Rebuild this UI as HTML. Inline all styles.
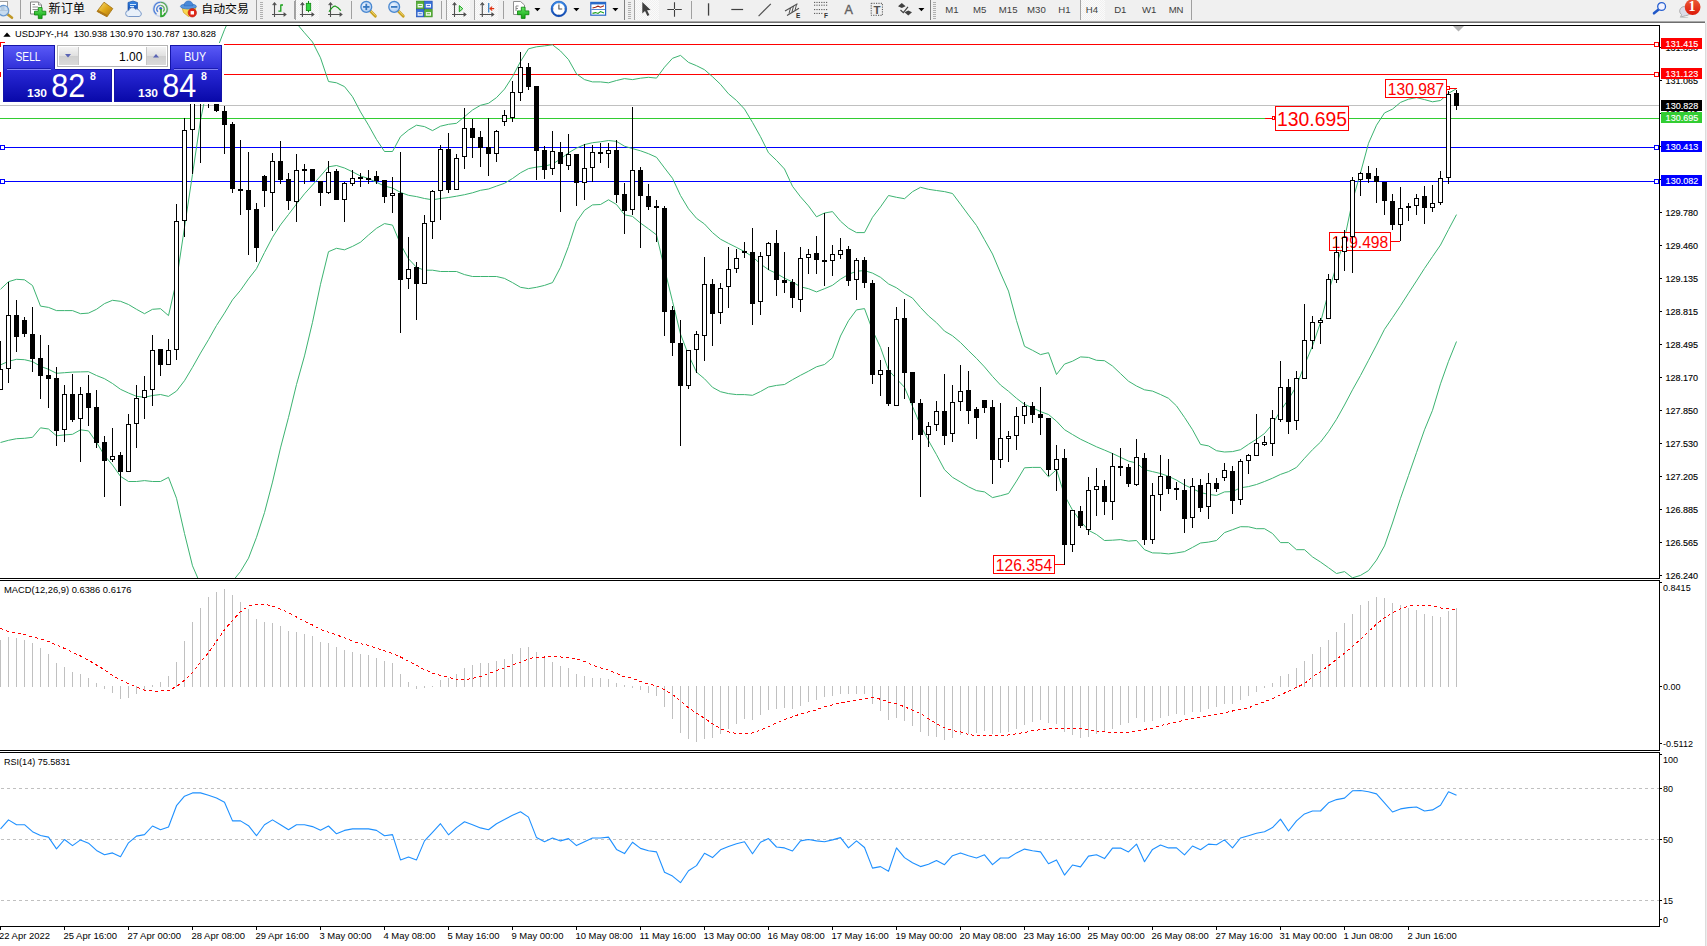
<!DOCTYPE html>
<html><head><meta charset="utf-8"><title>USDJPY H4</title>
<style>
html,body{margin:0;padding:0;background:#f0f0f0;}
body{width:1707px;height:946px;position:relative;overflow:hidden;font-family:"Liberation Sans", sans-serif;}
#tb{position:absolute;left:0;top:0;width:1707px;height:23px;background:#f0f0f0;}
#tb .ln1{position:absolute;left:0;top:21px;width:1705px;height:1px;background:#a8a8a8;}
#tb .ln2{position:absolute;left:0;top:22px;width:1705px;height:1px;background:#6e6e6e;}
</style></head><body>
<svg id="chart" width="1707" height="946" viewBox="0 0 1707 946" style="position:absolute;left:0;top:0" font-family='"Liberation Sans", sans-serif' shape-rendering="crispEdges"><defs><clipPath id="cm"><rect x="0" y="26" width="1659" height="552"/></clipPath><clipPath id="c2"><rect x="0" y="581" width="1659" height="169"/></clipPath><clipPath id="c3"><rect x="0" y="753" width="1659" height="173"/></clipPath><linearGradient id="gb" x1="0" y1="0" x2="0" y2="1"><stop offset="0" stop-color="#5a5af8"/><stop offset="1" stop-color="#3030d8"/></linearGradient><linearGradient id="gp" x1="0" y1="0" x2="0" y2="1"><stop offset="0" stop-color="#2a2ad8"/><stop offset="1" stop-color="#0808a8"/></linearGradient><linearGradient id="gs" x1="0" y1="0" x2="0" y2="1"><stop offset="0" stop-color="#f4f4f4"/><stop offset="0.5" stop-color="#e0e0e0"/><stop offset="0.5" stop-color="#cfcfcf"/><stop offset="1" stop-color="#dadada"/></linearGradient></defs><rect x="0" y="23" width="1707" height="923" fill="#fff" /><rect x="1705" y="23" width="1" height="923" fill="#dcdcdc" /><rect x="1706" y="23" width="1" height="923" fill="#ececec" /><g clip-path="url(#cm)"><rect x="0" y="105" width="1659" height="1" fill="#c0c0c0" /><rect x="0" y="44" width="1659" height="1" fill="#ff0000" /><rect x="0" y="74" width="1659" height="1" fill="#ff0000" /><rect x="0" y="118" width="1659" height="1" fill="#32cd32" /><rect x="0" y="147" width="1659" height="1" fill="#0000ff" /><rect x="0" y="181" width="1659" height="1" fill="#0000ff" /><polyline points="0.5,289.3 8.5,281.7 16.5,279.3 24.5,279.8 32.5,285.5 40.5,306.1 48.5,307.4 56.5,310.6 64.5,310.6 72.5,310.6 80.5,313.7 88.5,313.1 96.5,309.3 104.5,303.6 112.5,300.3 120.5,301.3 128.5,304.5 136.5,309.3 144.5,313.7 152.5,309.3 160.5,308.7 168.5,315.6 176.5,280.7 184.5,227.3 192.5,174.3 200.5,120.3 208.5,80.3 216.5,50.3 224.5,29.7 232.5,12.3 240.5,5.3 248.5,0.3 256.5,0.3 264.5,0.3 272.5,0.3 280.5,5.3 288.5,12.3 296.5,23.3 304.5,32.8 312.5,42.0 320.5,57.8 328.5,81.5 336.5,82.8 344.5,86.6 352.5,96.7 360.5,111.9 368.5,125.2 376.5,139.5 384.5,151.5 392.5,151.5 400.5,136.6 408.5,130.0 416.5,125.2 424.5,126.6 432.5,130.6 440.5,126.2 448.5,124.3 456.5,123.3 464.5,116.7 472.5,110.0 480.5,105.3 488.5,103.3 496.5,97.6 504.5,89.1 512.5,76.7 520.5,61.5 528.5,48.8 536.5,46.8 544.5,45.9 552.5,44.8 560.5,51.0 568.5,59.6 576.5,73.9 584.5,79.6 592.5,81.9 600.5,81.9 608.5,82.8 616.5,80.5 624.5,78.6 632.5,79.6 640.5,78.2 648.5,77.3 656.5,78.1 664.5,67.2 672.5,58.3 680.5,55.4 688.5,62.4 696.5,65.7 704.5,69.7 712.5,76.7 720.5,84.3 728.5,93.8 736.5,100.5 744.5,109.1 752.5,122.4 760.5,136.7 768.5,152.8 776.5,160.4 784.5,169.0 792.5,186.3 800.5,196.8 808.5,205.9 816.5,216.8 824.5,213.0 832.5,211.6 840.5,221.2 848.5,228.2 856.5,232.6 864.5,232.6 872.5,217.3 880.5,206.9 888.5,195.5 896.5,197.3 904.5,198.7 912.5,191.7 920.5,187.3 928.5,189.3 936.5,190.5 944.5,191.6 952.5,193.5 960.5,204.2 968.5,215.0 976.5,225.5 984.5,239.7 992.5,254.0 1000.5,273.0 1008.5,291.1 1016.5,320.6 1024.5,346.3 1032.5,350.3 1040.5,354.6 1048.5,352.7 1056.5,374.5 1064.5,364.1 1072.5,361.2 1080.5,356.9 1088.5,357.4 1096.5,360.3 1104.5,360.7 1112.5,366.0 1120.5,373.6 1128.5,381.2 1136.5,386.0 1144.5,389.8 1152.5,391.1 1160.5,394.5 1168.5,398.3 1176.5,405.9 1184.5,417.4 1192.5,429.7 1200.5,444.4 1208.5,445.9 1216.5,450.7 1224.5,452.0 1232.5,451.6 1240.5,449.7 1248.5,444.3 1256.5,439.2 1264.5,433.5 1272.5,424.0 1280.5,410.7 1288.5,399.3 1296.5,386.0 1304.5,365.0 1312.5,346.0 1320.5,322.5 1328.5,292.1 1336.5,265.4 1344.5,238.8 1352.5,200.7 1360.5,172.8 1368.5,143.3 1376.5,125.2 1384.5,112.9 1392.5,109.1 1400.5,102.4 1408.5,99.2 1416.5,97.6 1424.5,99.6 1432.5,101.8 1440.5,100.5 1448.5,93.3 1456.5,88.7" fill="none" stroke="#3cb371" stroke-width="1.0" shape-rendering="geometricPrecision" stroke-linejoin="round"/><polyline points="0.5,364.9 8.5,361.3 16.5,359.3 24.5,359.7 32.5,361.6 40.5,366.3 48.5,369.3 56.5,373.3 64.5,372.7 72.5,372.1 80.5,371.9 88.5,371.7 96.5,375.5 104.5,378.7 112.5,383.5 120.5,389.3 128.5,393.0 136.5,396.3 144.5,397.3 152.5,395.5 160.5,394.5 168.5,396.4 176.5,391.1 184.5,380.7 192.5,367.3 200.5,353.1 208.5,339.7 216.5,325.5 224.5,313.1 232.5,299.8 240.5,290.3 248.5,278.9 256.5,268.7 264.5,252.5 272.5,237.3 280.5,224.9 288.5,214.5 296.5,204.0 304.5,193.8 312.5,185.0 320.5,176.0 328.5,166.8 336.5,165.5 344.5,168.0 352.5,171.8 360.5,176.0 368.5,178.5 376.5,182.3 384.5,186.1 392.5,188.0 400.5,192.4 408.5,195.3 416.5,196.6 424.5,198.5 432.5,199.8 440.5,198.5 448.5,197.5 456.5,196.2 464.5,194.7 472.5,192.8 480.5,190.3 488.5,189.0 496.5,186.1 504.5,183.3 512.5,178.5 520.5,172.8 528.5,168.6 536.5,167.1 544.5,166.1 552.5,164.2 560.5,158.9 568.5,152.8 576.5,148.1 584.5,144.6 592.5,142.7 600.5,141.8 608.5,140.5 616.5,141.4 624.5,146.2 632.5,148.6 640.5,150.8 648.5,153.7 656.5,157.3 664.5,167.9 672.5,178.3 680.5,195.5 688.5,208.8 696.5,218.3 704.5,224.0 712.5,232.6 720.5,239.2 728.5,243.4 736.5,247.4 744.5,251.6 752.5,256.7 760.5,264.0 768.5,269.7 776.5,273.5 784.5,278.2 792.5,282.0 800.5,286.8 808.5,288.7 816.5,291.9 824.5,288.7 832.5,285.3 840.5,279.2 848.5,274.4 856.5,271.2 864.5,270.6 872.5,273.1 880.5,277.3 888.5,283.9 896.5,287.8 904.5,293.5 912.5,298.1 920.5,307.5 928.5,315.9 936.5,322.7 944.5,331.1 952.5,335.8 960.5,342.5 968.5,350.6 976.5,358.4 984.5,366.9 992.5,376.4 1000.5,385.0 1008.5,391.3 1016.5,398.3 1024.5,404.4 1032.5,407.8 1040.5,411.6 1048.5,414.5 1056.5,421.2 1064.5,429.7 1072.5,434.5 1080.5,439.2 1088.5,443.0 1096.5,446.8 1104.5,450.1 1112.5,453.5 1120.5,457.3 1128.5,461.1 1136.5,463.0 1144.5,469.7 1152.5,471.6 1160.5,473.5 1168.5,476.3 1176.5,480.1 1184.5,484.9 1192.5,488.7 1200.5,492.5 1208.5,494.4 1216.5,495.4 1224.5,491.9 1232.5,491.6 1240.5,487.8 1248.5,486.6 1256.5,484.5 1264.5,481.5 1272.5,478.2 1280.5,474.4 1288.5,471.6 1296.5,467.4 1304.5,458.3 1312.5,449.7 1320.5,442.1 1328.5,431.6 1336.5,419.3 1344.5,405.0 1352.5,389.8 1360.5,375.5 1368.5,360.3 1376.5,345.1 1384.5,329.3 1392.5,317.6 1400.5,305.7 1408.5,293.2 1416.5,280.9 1424.5,268.4 1432.5,256.6 1440.5,245.0 1448.5,229.6 1456.5,214.6" fill="none" stroke="#3cb371" stroke-width="1.0" shape-rendering="geometricPrecision" stroke-linejoin="round"/><polyline points="0.5,442.5 8.5,440.3 16.5,438.7 24.5,438.3 32.5,437.3 40.5,427.8 48.5,429.0 56.5,435.8 64.5,434.9 72.5,434.3 80.5,429.8 88.5,430.9 96.5,442.3 104.5,455.5 112.5,465.0 120.5,476.4 128.5,481.5 136.5,481.5 144.5,480.6 152.5,481.5 160.5,481.5 168.5,477.3 176.5,498.3 184.5,533.5 192.5,565.8 200.5,584.3 208.5,592.3 216.5,595.3 224.5,590.3 232.5,581.3 240.5,571.5 248.5,558.2 256.5,537.3 264.5,512.6 272.5,482.1 280.5,447.9 288.5,417.4 296.5,384.5 304.5,355.9 312.5,322.3 320.5,284.3 328.5,251.7 336.5,248.3 344.5,249.8 352.5,246.4 360.5,242.2 368.5,235.0 376.5,228.3 384.5,223.6 392.5,225.1 400.5,244.1 408.5,258.8 416.5,267.3 424.5,270.2 432.5,270.2 440.5,271.5 448.5,271.5 456.5,271.5 464.5,274.6 472.5,276.5 480.5,276.5 488.5,276.5 496.5,276.5 504.5,278.4 512.5,282.6 520.5,287.3 528.5,288.6 536.5,287.3 544.5,285.4 552.5,282.6 560.5,267.3 568.5,246.4 576.5,221.7 584.5,210.3 592.5,204.9 600.5,204.5 608.5,199.8 616.5,204.5 624.5,214.8 632.5,216.4 640.5,223.1 648.5,228.8 656.5,234.9 664.5,268.8 672.5,301.3 680.5,334.1 688.5,355.0 696.5,372.1 704.5,378.8 712.5,387.3 720.5,391.7 728.5,393.6 736.5,394.6 744.5,394.6 752.5,395.3 760.5,391.5 768.5,387.0 776.5,385.4 784.5,384.5 792.5,379.7 800.5,375.3 808.5,371.2 816.5,366.8 824.5,364.5 832.5,357.8 840.5,336.0 848.5,320.7 856.5,309.9 864.5,308.6 872.5,330.3 880.5,347.4 888.5,370.2 896.5,378.8 904.5,387.3 912.5,406.4 920.5,425.4 928.5,440.6 936.5,454.7 944.5,469.7 952.5,477.3 960.5,482.0 968.5,486.8 976.5,490.6 984.5,491.9 992.5,497.6 1000.5,495.7 1008.5,493.5 1016.5,481.1 1024.5,467.8 1032.5,467.4 1040.5,467.4 1048.5,476.9 1056.5,469.7 1064.5,495.3 1072.5,510.1 1080.5,521.1 1088.5,530.3 1096.5,534.5 1104.5,540.5 1112.5,540.2 1120.5,539.6 1128.5,541.1 1136.5,540.5 1144.5,549.7 1152.5,552.9 1160.5,553.1 1168.5,553.9 1176.5,552.9 1184.5,551.6 1192.5,547.4 1200.5,543.0 1208.5,542.1 1216.5,540.5 1224.5,532.6 1232.5,529.7 1240.5,526.7 1248.5,526.8 1256.5,528.7 1264.5,528.7 1272.5,533.5 1280.5,542.6 1288.5,542.6 1296.5,549.7 1304.5,549.7 1312.5,556.9 1320.5,562.0 1328.5,567.7 1336.5,573.5 1344.5,571.6 1352.5,577.8 1360.5,575.4 1368.5,570.6 1376.5,560.1 1384.5,545.9 1392.5,523.0 1400.5,498.3 1408.5,475.5 1416.5,452.6 1424.5,429.8 1432.5,410.3 1440.5,383.8 1448.5,361.3 1456.5,341.5" fill="none" stroke="#3cb371" stroke-width="1.0" shape-rendering="geometricPrecision" stroke-linejoin="round"/><rect x="993.5" y="555.5" width="61" height="18" fill="#fff" stroke="#ff0000" stroke-width="1"/><text x="1024.0" y="571.186" font-size="17" fill="#ff0000" text-anchor="middle" font-weight="normal" shape-rendering="auto" textLength="56.5" lengthAdjust="spacingAndGlyphs">126.354</text><rect x="1054" y="564" width="10" height="1" fill="#ff0000" /><rect x="1329.5" y="232.5" width="61" height="18" fill="#fff" stroke="#ff0000" stroke-width="1"/><text x="1360.0" y="248.186" font-size="17" fill="#ff0000" text-anchor="middle" font-weight="normal" shape-rendering="auto" textLength="56.5" lengthAdjust="spacingAndGlyphs">129.498</text><rect x="1390" y="241" width="10" height="1" fill="#ff0000" /><rect x="1385.5" y="79.5" width="61" height="18" fill="#fff" stroke="#ff0000" stroke-width="1"/><text x="1416.0" y="95.18599999999999" font-size="17" fill="#ff0000" text-anchor="middle" font-weight="normal" shape-rendering="auto" textLength="56.5" lengthAdjust="spacingAndGlyphs">130.987</text><rect x="1446.5" y="86.5" width="3" height="3" fill="#fff" stroke="#ff0000" stroke-width="1"/><rect x="1450" y="88" width="7" height="1" fill="#ff0000" /><rect x="1275.5" y="106.5" width="73" height="24" fill="#fff" stroke="#ff0000" stroke-width="1"/><text x="1312.0" y="126.4032" font-size="20.4" fill="#ff0000" text-anchor="middle" font-weight="normal" shape-rendering="auto" textLength="70" lengthAdjust="spacingAndGlyphs">130.695</text><rect x="1272.5" y="116.5" width="2" height="3" fill="#fff" stroke="#ff0000" stroke-width="1"/><rect x="1265" y="118" width="7" height="1" fill="#ff0000" /><rect x="0" y="341" width="1" height="49" fill="#000" /><rect x="-2" y="369" width="5" height="21" fill="#000" /><rect x="-1" y="370" width="3" height="19" fill="#fff" /><rect x="8" y="282" width="1" height="101" fill="#000" /><rect x="6" y="315" width="5" height="54" fill="#000" /><rect x="7" y="316" width="3" height="52" fill="#fff" /><rect x="16" y="300" width="1" height="52" fill="#000" /><rect x="14" y="315" width="5" height="22" fill="#000" /><rect x="24" y="317" width="1" height="20" fill="#000" /><rect x="22" y="320" width="5" height="14" fill="#000" /><rect x="32" y="307" width="1" height="65" fill="#000" /><rect x="30" y="334" width="5" height="25" fill="#000" /><rect x="40" y="335" width="1" height="64" fill="#000" /><rect x="38" y="358" width="5" height="18" fill="#000" /><rect x="48" y="345" width="1" height="63" fill="#000" /><rect x="46" y="375" width="5" height="4" fill="#000" /><rect x="56" y="367" width="1" height="79" fill="#000" /><rect x="54" y="378" width="5" height="53" fill="#000" /><rect x="64" y="385" width="1" height="57" fill="#000" /><rect x="62" y="394" width="5" height="36" fill="#000" /><rect x="63" y="395" width="3" height="34" fill="#fff" /><rect x="72" y="374" width="1" height="48" fill="#000" /><rect x="70" y="394" width="5" height="26" fill="#000" /><rect x="80" y="387" width="1" height="75" fill="#000" /><rect x="78" y="394" width="5" height="25" fill="#000" /><rect x="79" y="395" width="3" height="23" fill="#fff" /><rect x="88" y="375" width="1" height="51" fill="#000" /><rect x="86" y="393" width="5" height="15" fill="#000" /><rect x="96" y="390" width="1" height="58" fill="#000" /><rect x="94" y="407" width="5" height="36" fill="#000" /><rect x="104" y="436" width="1" height="61" fill="#000" /><rect x="102" y="442" width="5" height="19" fill="#000" /><rect x="112" y="428" width="1" height="34" fill="#000" /><rect x="110" y="456" width="5" height="4" fill="#000" /><rect x="111" y="457" width="3" height="2" fill="#fff" /><rect x="120" y="452" width="1" height="54" fill="#000" /><rect x="118" y="455" width="5" height="17" fill="#000" /><rect x="128" y="414" width="1" height="58" fill="#000" /><rect x="126" y="424" width="5" height="48" fill="#000" /><rect x="127" y="425" width="3" height="46" fill="#fff" /><rect x="136" y="385" width="1" height="63" fill="#000" /><rect x="134" y="398" width="5" height="26" fill="#000" /><rect x="135" y="399" width="3" height="24" fill="#fff" /><rect x="144" y="376" width="1" height="43" fill="#000" /><rect x="142" y="390" width="5" height="8" fill="#000" /><rect x="143" y="391" width="3" height="6" fill="#fff" /><rect x="152" y="335" width="1" height="71" fill="#000" /><rect x="150" y="350" width="5" height="40" fill="#000" /><rect x="151" y="351" width="3" height="38" fill="#fff" /><rect x="160" y="349" width="1" height="27" fill="#000" /><rect x="158" y="349" width="5" height="16" fill="#000" /><rect x="168" y="339" width="1" height="26" fill="#000" /><rect x="166" y="350" width="5" height="15" fill="#000" /><rect x="167" y="351" width="3" height="13" fill="#fff" /><rect x="176" y="204" width="1" height="156" fill="#000" /><rect x="174" y="221" width="5" height="129" fill="#000" /><rect x="175" y="222" width="3" height="127" fill="#fff" /><rect x="184" y="118" width="1" height="119" fill="#000" /><rect x="182" y="130" width="5" height="91" fill="#000" /><rect x="183" y="131" width="3" height="89" fill="#fff" /><rect x="192" y="70" width="1" height="104" fill="#000" /><rect x="190" y="78" width="5" height="52" fill="#000" /><rect x="191" y="79" width="3" height="50" fill="#fff" /><rect x="200" y="62" width="1" height="101" fill="#000" /><rect x="198" y="66" width="5" height="29" fill="#000" /><rect x="208" y="75" width="1" height="33" fill="#000" /><rect x="206" y="80" width="5" height="20" fill="#000" /><rect x="207" y="81" width="3" height="18" fill="#fff" /><rect x="216" y="90" width="1" height="22" fill="#000" /><rect x="214" y="95" width="5" height="16" fill="#000" /><rect x="224" y="106" width="1" height="48" fill="#000" /><rect x="222" y="111" width="5" height="14" fill="#000" /><rect x="232" y="122" width="1" height="71" fill="#000" /><rect x="230" y="124" width="5" height="65" fill="#000" /><rect x="240" y="140" width="1" height="75" fill="#000" /><rect x="238" y="189" width="5" height="2" fill="#000" /><rect x="248" y="152" width="1" height="103" fill="#000" /><rect x="246" y="190" width="5" height="20" fill="#000" /><rect x="256" y="203" width="1" height="59" fill="#000" /><rect x="254" y="209" width="5" height="39" fill="#000" /><rect x="264" y="175" width="1" height="32" fill="#000" /><rect x="262" y="176" width="5" height="15" fill="#000" /><rect x="272" y="153" width="1" height="78" fill="#000" /><rect x="270" y="161" width="5" height="32" fill="#000" /><rect x="271" y="162" width="3" height="30" fill="#fff" /><rect x="280" y="141" width="1" height="43" fill="#000" /><rect x="278" y="161" width="5" height="19" fill="#000" /><rect x="288" y="173" width="1" height="37" fill="#000" /><rect x="286" y="179" width="5" height="22" fill="#000" /><rect x="296" y="154" width="1" height="68" fill="#000" /><rect x="294" y="170" width="5" height="32" fill="#000" /><rect x="295" y="171" width="3" height="30" fill="#fff" /><rect x="304" y="164" width="1" height="20" fill="#000" /><rect x="302" y="169" width="5" height="2" fill="#000" /><rect x="312" y="169" width="1" height="12" fill="#000" /><rect x="310" y="169" width="5" height="12" fill="#000" /><rect x="320" y="181" width="1" height="25" fill="#000" /><rect x="318" y="181" width="5" height="12" fill="#000" /><rect x="328" y="161" width="1" height="33" fill="#000" /><rect x="326" y="172" width="5" height="21" fill="#000" /><rect x="327" y="173" width="3" height="19" fill="#fff" /><rect x="336" y="169" width="1" height="31" fill="#000" /><rect x="334" y="171" width="5" height="29" fill="#000" /><rect x="344" y="182" width="1" height="40" fill="#000" /><rect x="342" y="183" width="5" height="17" fill="#000" /><rect x="343" y="184" width="3" height="15" fill="#fff" /><rect x="352" y="170" width="1" height="16" fill="#000" /><rect x="350" y="178" width="5" height="6" fill="#000" /><rect x="351" y="179" width="3" height="4" fill="#fff" /><rect x="360" y="173" width="1" height="14" fill="#000" /><rect x="358" y="177" width="5" height="2" fill="#000" /><rect x="368" y="170" width="1" height="14" fill="#000" /><rect x="366" y="178" width="5" height="2" fill="#000" /><rect x="376" y="171" width="1" height="13" fill="#000" /><rect x="374" y="176" width="5" height="5" fill="#000" /><rect x="384" y="180" width="1" height="23" fill="#000" /><rect x="382" y="180" width="5" height="17" fill="#000" /><rect x="392" y="177" width="1" height="36" fill="#000" /><rect x="390" y="193" width="5" height="3" fill="#000" /><rect x="391" y="194" width="3" height="1" fill="#fff" /><rect x="400" y="152" width="1" height="181" fill="#000" /><rect x="398" y="193" width="5" height="87" fill="#000" /><rect x="408" y="237" width="1" height="52" fill="#000" /><rect x="406" y="269" width="5" height="10" fill="#000" /><rect x="407" y="270" width="3" height="8" fill="#fff" /><rect x="416" y="262" width="1" height="58" fill="#000" /><rect x="414" y="267" width="5" height="17" fill="#000" /><rect x="424" y="215" width="1" height="69" fill="#000" /><rect x="422" y="223" width="5" height="61" fill="#000" /><rect x="423" y="224" width="3" height="59" fill="#fff" /><rect x="432" y="190" width="1" height="49" fill="#000" /><rect x="430" y="191" width="5" height="31" fill="#000" /><rect x="431" y="192" width="3" height="29" fill="#fff" /><rect x="440" y="145" width="1" height="75" fill="#000" /><rect x="438" y="149" width="5" height="42" fill="#000" /><rect x="439" y="150" width="3" height="40" fill="#fff" /><rect x="448" y="133" width="1" height="60" fill="#000" /><rect x="446" y="149" width="5" height="41" fill="#000" /><rect x="456" y="154" width="1" height="36" fill="#000" /><rect x="454" y="158" width="5" height="32" fill="#000" /><rect x="455" y="159" width="3" height="30" fill="#fff" /><rect x="464" y="108" width="1" height="61" fill="#000" /><rect x="462" y="128" width="5" height="29" fill="#000" /><rect x="463" y="129" width="3" height="27" fill="#fff" /><rect x="472" y="119" width="1" height="39" fill="#000" /><rect x="470" y="128" width="5" height="10" fill="#000" /><rect x="480" y="131" width="1" height="36" fill="#000" /><rect x="478" y="137" width="5" height="11" fill="#000" /><rect x="488" y="118" width="1" height="58" fill="#000" /><rect x="486" y="147" width="5" height="7" fill="#000" /><rect x="496" y="130" width="1" height="32" fill="#000" /><rect x="494" y="131" width="5" height="23" fill="#000" /><rect x="495" y="132" width="3" height="21" fill="#fff" /><rect x="504" y="110" width="1" height="16" fill="#000" /><rect x="502" y="115" width="5" height="7" fill="#000" /><rect x="503" y="116" width="3" height="5" fill="#fff" /><rect x="512" y="81" width="1" height="41" fill="#000" /><rect x="510" y="92" width="5" height="26" fill="#000" /><rect x="511" y="93" width="3" height="24" fill="#fff" /><rect x="520" y="52" width="1" height="49" fill="#000" /><rect x="518" y="67" width="5" height="26" fill="#000" /><rect x="519" y="68" width="3" height="24" fill="#fff" /><rect x="528" y="63" width="1" height="27" fill="#000" /><rect x="526" y="67" width="5" height="20" fill="#000" /><rect x="536" y="86" width="1" height="94" fill="#000" /><rect x="534" y="86" width="5" height="65" fill="#000" /><rect x="544" y="146" width="1" height="33" fill="#000" /><rect x="542" y="150" width="5" height="20" fill="#000" /><rect x="552" y="131" width="1" height="44" fill="#000" /><rect x="550" y="151" width="5" height="18" fill="#000" /><rect x="551" y="152" width="3" height="16" fill="#fff" /><rect x="560" y="142" width="1" height="70" fill="#000" /><rect x="558" y="152" width="5" height="12" fill="#000" /><rect x="568" y="134" width="1" height="36" fill="#000" /><rect x="566" y="154" width="5" height="12" fill="#000" /><rect x="567" y="155" width="3" height="10" fill="#fff" /><rect x="576" y="154" width="1" height="52" fill="#000" /><rect x="574" y="154" width="5" height="29" fill="#000" /><rect x="584" y="144" width="1" height="56" fill="#000" /><rect x="582" y="168" width="5" height="15" fill="#000" /><rect x="583" y="169" width="3" height="13" fill="#fff" /><rect x="592" y="145" width="1" height="37" fill="#000" /><rect x="590" y="152" width="5" height="16" fill="#000" /><rect x="591" y="153" width="3" height="14" fill="#fff" /><rect x="600" y="143" width="1" height="20" fill="#000" /><rect x="598" y="152" width="5" height="2" fill="#000" /><rect x="608" y="143" width="1" height="25" fill="#000" /><rect x="606" y="150" width="5" height="4" fill="#000" /><rect x="607" y="151" width="3" height="2" fill="#fff" /><rect x="616" y="140" width="1" height="63" fill="#000" /><rect x="614" y="150" width="5" height="45" fill="#000" /><rect x="624" y="183" width="1" height="51" fill="#000" /><rect x="622" y="194" width="5" height="17" fill="#000" /><rect x="632" y="107" width="1" height="108" fill="#000" /><rect x="630" y="170" width="5" height="40" fill="#000" /><rect x="631" y="171" width="3" height="38" fill="#fff" /><rect x="640" y="167" width="1" height="81" fill="#000" /><rect x="638" y="170" width="5" height="26" fill="#000" /><rect x="648" y="184" width="1" height="26" fill="#000" /><rect x="646" y="196" width="5" height="11" fill="#000" /><rect x="656" y="200" width="1" height="42" fill="#000" /><rect x="654" y="206" width="5" height="2" fill="#000" /><rect x="664" y="206" width="1" height="130" fill="#000" /><rect x="662" y="208" width="5" height="104" fill="#000" /><rect x="672" y="306" width="1" height="50" fill="#000" /><rect x="670" y="310" width="5" height="33" fill="#000" /><rect x="680" y="320" width="1" height="126" fill="#000" /><rect x="678" y="343" width="5" height="43" fill="#000" /><rect x="688" y="350" width="1" height="39" fill="#000" /><rect x="686" y="350" width="5" height="36" fill="#000" /><rect x="687" y="351" width="3" height="34" fill="#fff" /><rect x="696" y="331" width="1" height="42" fill="#000" /><rect x="694" y="334" width="5" height="16" fill="#000" /><rect x="695" y="335" width="3" height="14" fill="#fff" /><rect x="704" y="257" width="1" height="104" fill="#000" /><rect x="702" y="284" width="5" height="52" fill="#000" /><rect x="703" y="285" width="3" height="50" fill="#fff" /><rect x="712" y="279" width="1" height="67" fill="#000" /><rect x="710" y="284" width="5" height="30" fill="#000" /><rect x="720" y="283" width="1" height="41" fill="#000" /><rect x="718" y="288" width="5" height="25" fill="#000" /><rect x="719" y="289" width="3" height="23" fill="#fff" /><rect x="728" y="247" width="1" height="61" fill="#000" /><rect x="726" y="269" width="5" height="18" fill="#000" /><rect x="727" y="270" width="3" height="16" fill="#fff" /><rect x="736" y="249" width="1" height="24" fill="#000" /><rect x="734" y="258" width="5" height="11" fill="#000" /><rect x="735" y="259" width="3" height="9" fill="#fff" /><rect x="744" y="242" width="1" height="16" fill="#000" /><rect x="742" y="251" width="5" height="2" fill="#000" /><rect x="752" y="228" width="1" height="97" fill="#000" /><rect x="750" y="252" width="5" height="52" fill="#000" /><rect x="760" y="252" width="1" height="63" fill="#000" /><rect x="758" y="256" width="5" height="46" fill="#000" /><rect x="759" y="257" width="3" height="44" fill="#fff" /><rect x="768" y="242" width="1" height="28" fill="#000" /><rect x="766" y="243" width="5" height="13" fill="#000" /><rect x="767" y="244" width="3" height="11" fill="#fff" /><rect x="776" y="230" width="1" height="66" fill="#000" /><rect x="774" y="243" width="5" height="37" fill="#000" /><rect x="784" y="252" width="1" height="41" fill="#000" /><rect x="782" y="280" width="5" height="3" fill="#000" /><rect x="792" y="279" width="1" height="29" fill="#000" /><rect x="790" y="282" width="5" height="16" fill="#000" /><rect x="800" y="247" width="1" height="65" fill="#000" /><rect x="798" y="258" width="5" height="42" fill="#000" /><rect x="799" y="259" width="3" height="40" fill="#fff" /><rect x="808" y="249" width="1" height="25" fill="#000" /><rect x="806" y="254" width="5" height="4" fill="#000" /><rect x="807" y="255" width="3" height="2" fill="#fff" /><rect x="816" y="236" width="1" height="38" fill="#000" /><rect x="814" y="253" width="5" height="7" fill="#000" /><rect x="824" y="213" width="1" height="73" fill="#000" /><rect x="822" y="260" width="5" height="2" fill="#000" /><rect x="832" y="245" width="1" height="31" fill="#000" /><rect x="830" y="254" width="5" height="7" fill="#000" /><rect x="831" y="255" width="3" height="5" fill="#fff" /><rect x="840" y="238" width="1" height="21" fill="#000" /><rect x="838" y="250" width="5" height="5" fill="#000" /><rect x="839" y="251" width="3" height="3" fill="#fff" /><rect x="848" y="246" width="1" height="40" fill="#000" /><rect x="846" y="249" width="5" height="32" fill="#000" /><rect x="856" y="258" width="1" height="42" fill="#000" /><rect x="854" y="260" width="5" height="20" fill="#000" /><rect x="855" y="261" width="3" height="18" fill="#fff" /><rect x="864" y="257" width="1" height="31" fill="#000" /><rect x="862" y="260" width="5" height="23" fill="#000" /><rect x="872" y="280" width="1" height="104" fill="#000" /><rect x="870" y="283" width="5" height="92" fill="#000" /><rect x="880" y="360" width="1" height="36" fill="#000" /><rect x="878" y="370" width="5" height="5" fill="#000" /><rect x="879" y="371" width="3" height="3" fill="#fff" /><rect x="888" y="347" width="1" height="59" fill="#000" /><rect x="886" y="370" width="5" height="34" fill="#000" /><rect x="896" y="307" width="1" height="99" fill="#000" /><rect x="894" y="319" width="5" height="87" fill="#000" /><rect x="895" y="320" width="3" height="85" fill="#fff" /><rect x="904" y="299" width="1" height="100" fill="#000" /><rect x="902" y="318" width="5" height="55" fill="#000" /><rect x="912" y="372" width="1" height="68" fill="#000" /><rect x="910" y="372" width="5" height="31" fill="#000" /><rect x="920" y="399" width="1" height="98" fill="#000" /><rect x="918" y="403" width="5" height="32" fill="#000" /><rect x="928" y="422" width="1" height="25" fill="#000" /><rect x="926" y="426" width="5" height="9" fill="#000" /><rect x="927" y="427" width="3" height="7" fill="#fff" /><rect x="936" y="401" width="1" height="30" fill="#000" /><rect x="934" y="411" width="5" height="14" fill="#000" /><rect x="935" y="412" width="3" height="12" fill="#fff" /><rect x="944" y="374" width="1" height="71" fill="#000" /><rect x="942" y="411" width="5" height="25" fill="#000" /><rect x="952" y="385" width="1" height="57" fill="#000" /><rect x="950" y="402" width="5" height="32" fill="#000" /><rect x="951" y="403" width="3" height="30" fill="#fff" /><rect x="960" y="365" width="1" height="46" fill="#000" /><rect x="958" y="391" width="5" height="11" fill="#000" /><rect x="959" y="392" width="3" height="9" fill="#fff" /><rect x="968" y="371" width="1" height="53" fill="#000" /><rect x="966" y="390" width="5" height="21" fill="#000" /><rect x="976" y="407" width="1" height="32" fill="#000" /><rect x="974" y="409" width="5" height="9" fill="#000" /><rect x="984" y="400" width="1" height="13" fill="#000" /><rect x="982" y="400" width="5" height="8" fill="#000" /><rect x="992" y="400" width="1" height="84" fill="#000" /><rect x="990" y="407" width="5" height="53" fill="#000" /><rect x="1000" y="403" width="1" height="65" fill="#000" /><rect x="998" y="438" width="5" height="22" fill="#000" /><rect x="999" y="439" width="3" height="20" fill="#fff" /><rect x="1008" y="431" width="1" height="31" fill="#000" /><rect x="1006" y="436" width="5" height="3" fill="#000" /><rect x="1007" y="437" width="3" height="1" fill="#fff" /><rect x="1016" y="407" width="1" height="43" fill="#000" /><rect x="1014" y="416" width="5" height="20" fill="#000" /><rect x="1015" y="417" width="3" height="18" fill="#fff" /><rect x="1024" y="402" width="1" height="22" fill="#000" /><rect x="1022" y="406" width="5" height="10" fill="#000" /><rect x="1023" y="407" width="3" height="8" fill="#fff" /><rect x="1032" y="402" width="1" height="21" fill="#000" /><rect x="1030" y="406" width="5" height="9" fill="#000" /><rect x="1040" y="387" width="1" height="48" fill="#000" /><rect x="1038" y="414" width="5" height="4" fill="#000" /><rect x="1048" y="418" width="1" height="58" fill="#000" /><rect x="1046" y="418" width="5" height="52" fill="#000" /><rect x="1056" y="445" width="1" height="46" fill="#000" /><rect x="1054" y="459" width="5" height="11" fill="#000" /><rect x="1055" y="460" width="3" height="9" fill="#fff" /><rect x="1064" y="449" width="1" height="116" fill="#000" /><rect x="1062" y="458" width="5" height="87" fill="#000" /><rect x="1072" y="510" width="1" height="42" fill="#000" /><rect x="1070" y="510" width="5" height="35" fill="#000" /><rect x="1071" y="511" width="3" height="33" fill="#fff" /><rect x="1080" y="506" width="1" height="22" fill="#000" /><rect x="1078" y="511" width="5" height="15" fill="#000" /><rect x="1088" y="477" width="1" height="58" fill="#000" /><rect x="1086" y="490" width="5" height="40" fill="#000" /><rect x="1087" y="491" width="3" height="38" fill="#fff" /><rect x="1096" y="468" width="1" height="48" fill="#000" /><rect x="1094" y="486" width="5" height="4" fill="#000" /><rect x="1095" y="487" width="3" height="2" fill="#fff" /><rect x="1104" y="480" width="1" height="35" fill="#000" /><rect x="1102" y="486" width="5" height="16" fill="#000" /><rect x="1112" y="453" width="1" height="67" fill="#000" /><rect x="1110" y="466" width="5" height="36" fill="#000" /><rect x="1111" y="467" width="3" height="34" fill="#fff" /><rect x="1120" y="448" width="1" height="28" fill="#000" /><rect x="1118" y="466" width="5" height="2" fill="#000" /><rect x="1128" y="464" width="1" height="23" fill="#000" /><rect x="1126" y="467" width="5" height="17" fill="#000" /><rect x="1136" y="439" width="1" height="47" fill="#000" /><rect x="1134" y="457" width="5" height="28" fill="#000" /><rect x="1135" y="458" width="3" height="26" fill="#fff" /><rect x="1144" y="453" width="1" height="92" fill="#000" /><rect x="1142" y="458" width="5" height="82" fill="#000" /><rect x="1152" y="483" width="1" height="61" fill="#000" /><rect x="1150" y="495" width="5" height="45" fill="#000" /><rect x="1151" y="496" width="3" height="43" fill="#fff" /><rect x="1160" y="455" width="1" height="56" fill="#000" /><rect x="1158" y="476" width="5" height="19" fill="#000" /><rect x="1159" y="477" width="3" height="17" fill="#fff" /><rect x="1168" y="459" width="1" height="35" fill="#000" /><rect x="1166" y="476" width="5" height="13" fill="#000" /><rect x="1176" y="482" width="1" height="18" fill="#000" /><rect x="1174" y="488" width="5" height="2" fill="#000" /><rect x="1184" y="479" width="1" height="54" fill="#000" /><rect x="1182" y="490" width="5" height="29" fill="#000" /><rect x="1192" y="478" width="1" height="50" fill="#000" /><rect x="1190" y="486" width="5" height="32" fill="#000" /><rect x="1191" y="487" width="3" height="30" fill="#fff" /><rect x="1200" y="479" width="1" height="33" fill="#000" /><rect x="1198" y="485" width="5" height="23" fill="#000" /><rect x="1208" y="473" width="1" height="46" fill="#000" /><rect x="1206" y="483" width="5" height="24" fill="#000" /><rect x="1207" y="484" width="3" height="22" fill="#fff" /><rect x="1216" y="478" width="1" height="14" fill="#000" /><rect x="1214" y="483" width="5" height="6" fill="#000" /><rect x="1224" y="463" width="1" height="18" fill="#000" /><rect x="1222" y="470" width="5" height="8" fill="#000" /><rect x="1223" y="471" width="3" height="6" fill="#fff" /><rect x="1232" y="466" width="1" height="48" fill="#000" /><rect x="1230" y="471" width="5" height="30" fill="#000" /><rect x="1240" y="459" width="1" height="46" fill="#000" /><rect x="1238" y="461" width="5" height="39" fill="#000" /><rect x="1239" y="462" width="3" height="37" fill="#fff" /><rect x="1248" y="454" width="1" height="20" fill="#000" /><rect x="1246" y="455" width="5" height="6" fill="#000" /><rect x="1247" y="456" width="3" height="4" fill="#fff" /><rect x="1256" y="414" width="1" height="42" fill="#000" /><rect x="1254" y="443" width="5" height="13" fill="#000" /><rect x="1255" y="444" width="3" height="11" fill="#fff" /><rect x="1264" y="436" width="1" height="10" fill="#000" /><rect x="1262" y="442" width="5" height="3" fill="#000" /><rect x="1263" y="443" width="3" height="1" fill="#fff" /><rect x="1272" y="410" width="1" height="46" fill="#000" /><rect x="1270" y="418" width="5" height="26" fill="#000" /><rect x="1271" y="419" width="3" height="24" fill="#fff" /><rect x="1280" y="361" width="1" height="61" fill="#000" /><rect x="1278" y="387" width="5" height="33" fill="#000" /><rect x="1279" y="388" width="3" height="31" fill="#fff" /><rect x="1288" y="379" width="1" height="55" fill="#000" /><rect x="1286" y="387" width="5" height="35" fill="#000" /><rect x="1296" y="371" width="1" height="59" fill="#000" /><rect x="1294" y="378" width="5" height="43" fill="#000" /><rect x="1295" y="379" width="3" height="41" fill="#fff" /><rect x="1304" y="304" width="1" height="75" fill="#000" /><rect x="1302" y="340" width="5" height="39" fill="#000" /><rect x="1303" y="341" width="3" height="37" fill="#fff" /><rect x="1312" y="316" width="1" height="33" fill="#000" /><rect x="1310" y="322" width="5" height="19" fill="#000" /><rect x="1311" y="323" width="3" height="17" fill="#fff" /><rect x="1320" y="318" width="1" height="26" fill="#000" /><rect x="1318" y="320" width="5" height="3" fill="#000" /><rect x="1319" y="321" width="3" height="1" fill="#fff" /><rect x="1328" y="274" width="1" height="45" fill="#000" /><rect x="1326" y="279" width="5" height="40" fill="#000" /><rect x="1327" y="280" width="3" height="38" fill="#fff" /><rect x="1336" y="237" width="1" height="46" fill="#000" /><rect x="1334" y="252" width="5" height="28" fill="#000" /><rect x="1335" y="253" width="3" height="26" fill="#fff" /><rect x="1344" y="230" width="1" height="41" fill="#000" /><rect x="1342" y="237" width="5" height="15" fill="#000" /><rect x="1343" y="238" width="3" height="13" fill="#fff" /><rect x="1352" y="177" width="1" height="96" fill="#000" /><rect x="1350" y="180" width="5" height="57" fill="#000" /><rect x="1351" y="181" width="3" height="55" fill="#fff" /><rect x="1360" y="172" width="1" height="24" fill="#000" /><rect x="1358" y="173" width="5" height="7" fill="#000" /><rect x="1359" y="174" width="3" height="5" fill="#fff" /><rect x="1368" y="166" width="1" height="17" fill="#000" /><rect x="1366" y="173" width="5" height="6" fill="#000" /><rect x="1376" y="168" width="1" height="35" fill="#000" /><rect x="1374" y="176" width="5" height="6" fill="#000" /><rect x="1384" y="182" width="1" height="33" fill="#000" /><rect x="1382" y="182" width="5" height="19" fill="#000" /><rect x="1392" y="194" width="1" height="36" fill="#000" /><rect x="1390" y="201" width="5" height="24" fill="#000" /><rect x="1400" y="187" width="1" height="54" fill="#000" /><rect x="1398" y="208" width="5" height="17" fill="#000" /><rect x="1399" y="209" width="3" height="15" fill="#fff" /><rect x="1408" y="203" width="1" height="18" fill="#000" /><rect x="1406" y="206" width="5" height="2" fill="#000" /><rect x="1416" y="194" width="1" height="21" fill="#000" /><rect x="1414" y="198" width="5" height="8" fill="#000" /><rect x="1415" y="199" width="3" height="6" fill="#fff" /><rect x="1424" y="186" width="1" height="38" fill="#000" /><rect x="1422" y="196" width="5" height="12" fill="#000" /><rect x="1432" y="185" width="1" height="27" fill="#000" /><rect x="1430" y="203" width="5" height="5" fill="#000" /><rect x="1431" y="204" width="3" height="3" fill="#fff" /><rect x="1440" y="171" width="1" height="34" fill="#000" /><rect x="1438" y="178" width="5" height="25" fill="#000" /><rect x="1439" y="179" width="3" height="23" fill="#fff" /><rect x="1448" y="91" width="1" height="93" fill="#000" /><rect x="1446" y="94" width="5" height="84" fill="#000" /><rect x="1447" y="95" width="3" height="82" fill="#fff" /><rect x="1456" y="90" width="1" height="20" fill="#000" /><rect x="1454" y="93" width="5" height="13" fill="#000" /></g><rect x="1654.5" y="42.5" width="4" height="4" fill="#fff" stroke="#ff0000" stroke-width="1"/><rect x="0.5" y="42.5" width="4" height="4" fill="#fff" stroke="#ff0000" stroke-width="1"/><rect x="1654.5" y="72.5" width="4" height="4" fill="#fff" stroke="#ff0000" stroke-width="1"/><rect x="0.5" y="72.5" width="4" height="4" fill="#fff" stroke="#ff0000" stroke-width="1"/><rect x="1654.5" y="145.5" width="4" height="4" fill="#fff" stroke="#0000ff" stroke-width="1"/><rect x="0.5" y="145.5" width="4" height="4" fill="#fff" stroke="#0000ff" stroke-width="1"/><rect x="1654.5" y="179.5" width="4" height="4" fill="#fff" stroke="#0000ff" stroke-width="1"/><rect x="0.5" y="179.5" width="4" height="4" fill="#fff" stroke="#0000ff" stroke-width="1"/><polygon points="1453,26 1464,26 1458.5,31.5" fill="#b4b4b4" shape-rendering="auto"/><g clip-path="url(#c2)"><rect x="0" y="640" width="1" height="47" fill="#c0c0c0" /><rect x="8" y="637" width="1" height="50" fill="#c0c0c0" /><rect x="16" y="638" width="1" height="49" fill="#c0c0c0" /><rect x="24" y="640" width="1" height="47" fill="#c0c0c0" /><rect x="32" y="643" width="1" height="44" fill="#c0c0c0" /><rect x="40" y="648" width="1" height="39" fill="#c0c0c0" /><rect x="48" y="654" width="1" height="33" fill="#c0c0c0" /><rect x="56" y="663" width="1" height="24" fill="#c0c0c0" /><rect x="64" y="667" width="1" height="20" fill="#c0c0c0" /><rect x="72" y="672" width="1" height="15" fill="#c0c0c0" /><rect x="80" y="674" width="1" height="13" fill="#c0c0c0" /><rect x="88" y="678" width="1" height="9" fill="#c0c0c0" /><rect x="96" y="683" width="1" height="4" fill="#c0c0c0" /><rect x="104" y="686" width="1" height="3" fill="#c0c0c0" /><rect x="112" y="686" width="1" height="7" fill="#c0c0c0" /><rect x="120" y="686" width="1" height="13" fill="#c0c0c0" /><rect x="128" y="686" width="1" height="12" fill="#c0c0c0" /><rect x="136" y="686" width="1" height="8" fill="#c0c0c0" /><rect x="144" y="686" width="1" height="4" fill="#c0c0c0" /><rect x="152" y="685" width="1" height="2" fill="#c0c0c0" /><rect x="160" y="682" width="1" height="5" fill="#c0c0c0" /><rect x="168" y="676" width="1" height="11" fill="#c0c0c0" /><rect x="176" y="662" width="1" height="25" fill="#c0c0c0" /><rect x="184" y="641" width="1" height="46" fill="#c0c0c0" /><rect x="192" y="622" width="1" height="65" fill="#c0c0c0" /><rect x="200" y="608" width="1" height="79" fill="#c0c0c0" /><rect x="208" y="597" width="1" height="90" fill="#c0c0c0" /><rect x="216" y="592" width="1" height="95" fill="#c0c0c0" /><rect x="224" y="589" width="1" height="98" fill="#c0c0c0" /><rect x="232" y="595" width="1" height="92" fill="#c0c0c0" /><rect x="240" y="602" width="1" height="85" fill="#c0c0c0" /><rect x="248" y="609" width="1" height="78" fill="#c0c0c0" /><rect x="256" y="619" width="1" height="68" fill="#c0c0c0" /><rect x="264" y="622" width="1" height="65" fill="#c0c0c0" /><rect x="272" y="623" width="1" height="64" fill="#c0c0c0" /><rect x="280" y="626" width="1" height="61" fill="#c0c0c0" /><rect x="288" y="631" width="1" height="56" fill="#c0c0c0" /><rect x="296" y="632" width="1" height="55" fill="#c0c0c0" /><rect x="304" y="634" width="1" height="53" fill="#c0c0c0" /><rect x="312" y="636" width="1" height="51" fill="#c0c0c0" /><rect x="320" y="642" width="1" height="45" fill="#c0c0c0" /><rect x="328" y="643" width="1" height="44" fill="#c0c0c0" /><rect x="336" y="647" width="1" height="40" fill="#c0c0c0" /><rect x="344" y="650" width="1" height="37" fill="#c0c0c0" /><rect x="352" y="652" width="1" height="35" fill="#c0c0c0" /><rect x="360" y="654" width="1" height="33" fill="#c0c0c0" /><rect x="368" y="655" width="1" height="32" fill="#c0c0c0" /><rect x="376" y="658" width="1" height="29" fill="#c0c0c0" /><rect x="384" y="661" width="1" height="26" fill="#c0c0c0" /><rect x="392" y="663" width="1" height="24" fill="#c0c0c0" /><rect x="400" y="674" width="1" height="13" fill="#c0c0c0" /><rect x="408" y="682" width="1" height="5" fill="#c0c0c0" /><rect x="416" y="686" width="1" height="3" fill="#c0c0c0" /><rect x="424" y="686" width="1" height="2" fill="#c0c0c0" /><rect x="432" y="686" width="1" height="1" fill="#c0c0c0" /><rect x="440" y="680" width="1" height="7" fill="#c0c0c0" /><rect x="448" y="678" width="1" height="9" fill="#c0c0c0" /><rect x="456" y="674" width="1" height="13" fill="#c0c0c0" /><rect x="464" y="668" width="1" height="19" fill="#c0c0c0" /><rect x="472" y="665" width="1" height="22" fill="#c0c0c0" /><rect x="480" y="663" width="1" height="24" fill="#c0c0c0" /><rect x="488" y="663" width="1" height="24" fill="#c0c0c0" /><rect x="496" y="661" width="1" height="26" fill="#c0c0c0" /><rect x="504" y="659" width="1" height="28" fill="#c0c0c0" /><rect x="512" y="654" width="1" height="33" fill="#c0c0c0" /><rect x="520" y="648" width="1" height="39" fill="#c0c0c0" /><rect x="528" y="647" width="1" height="40" fill="#c0c0c0" /><rect x="536" y="652" width="1" height="35" fill="#c0c0c0" /><rect x="544" y="658" width="1" height="29" fill="#c0c0c0" /><rect x="552" y="662" width="1" height="25" fill="#c0c0c0" /><rect x="560" y="666" width="1" height="21" fill="#c0c0c0" /><rect x="568" y="668" width="1" height="19" fill="#c0c0c0" /><rect x="576" y="674" width="1" height="13" fill="#c0c0c0" /><rect x="584" y="676" width="1" height="11" fill="#c0c0c0" /><rect x="592" y="678" width="1" height="9" fill="#c0c0c0" /><rect x="600" y="678" width="1" height="9" fill="#c0c0c0" /><rect x="608" y="679" width="1" height="8" fill="#c0c0c0" /><rect x="616" y="683" width="1" height="4" fill="#c0c0c0" /><rect x="624" y="685" width="1" height="2" fill="#c0c0c0" /><rect x="632" y="686" width="1" height="2" fill="#c0c0c0" /><rect x="640" y="686" width="1" height="4" fill="#c0c0c0" /><rect x="648" y="686" width="1" height="7" fill="#c0c0c0" /><rect x="656" y="686" width="1" height="10" fill="#c0c0c0" /><rect x="664" y="686" width="1" height="21" fill="#c0c0c0" /><rect x="672" y="686" width="1" height="33" fill="#c0c0c0" /><rect x="680" y="686" width="1" height="47" fill="#c0c0c0" /><rect x="688" y="686" width="1" height="53" fill="#c0c0c0" /><rect x="696" y="686" width="1" height="56" fill="#c0c0c0" /><rect x="704" y="686" width="1" height="53" fill="#c0c0c0" /><rect x="712" y="686" width="1" height="52" fill="#c0c0c0" /><rect x="720" y="686" width="1" height="48" fill="#c0c0c0" /><rect x="728" y="686" width="1" height="43" fill="#c0c0c0" /><rect x="736" y="686" width="1" height="38" fill="#c0c0c0" /><rect x="744" y="686" width="1" height="33" fill="#c0c0c0" /><rect x="752" y="686" width="1" height="34" fill="#c0c0c0" /><rect x="760" y="686" width="1" height="29" fill="#c0c0c0" /><rect x="768" y="686" width="1" height="24" fill="#c0c0c0" /><rect x="776" y="686" width="1" height="23" fill="#c0c0c0" /><rect x="784" y="686" width="1" height="22" fill="#c0c0c0" /><rect x="792" y="686" width="1" height="23" fill="#c0c0c0" /><rect x="800" y="686" width="1" height="20" fill="#c0c0c0" /><rect x="808" y="686" width="1" height="16" fill="#c0c0c0" /><rect x="816" y="686" width="1" height="14" fill="#c0c0c0" /><rect x="824" y="686" width="1" height="11" fill="#c0c0c0" /><rect x="832" y="686" width="1" height="10" fill="#c0c0c0" /><rect x="840" y="686" width="1" height="8" fill="#c0c0c0" /><rect x="848" y="686" width="1" height="8" fill="#c0c0c0" /><rect x="856" y="686" width="1" height="8" fill="#c0c0c0" /><rect x="864" y="686" width="1" height="8" fill="#c0c0c0" /><rect x="872" y="686" width="1" height="18" fill="#c0c0c0" /><rect x="880" y="686" width="1" height="25" fill="#c0c0c0" /><rect x="888" y="686" width="1" height="34" fill="#c0c0c0" /><rect x="896" y="686" width="1" height="32" fill="#c0c0c0" /><rect x="904" y="686" width="1" height="35" fill="#c0c0c0" /><rect x="912" y="686" width="1" height="40" fill="#c0c0c0" /><rect x="920" y="686" width="1" height="46" fill="#c0c0c0" /><rect x="928" y="686" width="1" height="50" fill="#c0c0c0" /><rect x="936" y="686" width="1" height="51" fill="#c0c0c0" /><rect x="944" y="686" width="1" height="54" fill="#c0c0c0" /><rect x="952" y="686" width="1" height="52" fill="#c0c0c0" /><rect x="960" y="686" width="1" height="49" fill="#c0c0c0" /><rect x="968" y="686" width="1" height="48" fill="#c0c0c0" /><rect x="976" y="686" width="1" height="47" fill="#c0c0c0" /><rect x="984" y="686" width="1" height="45" fill="#c0c0c0" /><rect x="992" y="686" width="1" height="48" fill="#c0c0c0" /><rect x="1000" y="686" width="1" height="47" fill="#c0c0c0" /><rect x="1008" y="686" width="1" height="46" fill="#c0c0c0" /><rect x="1016" y="686" width="1" height="43" fill="#c0c0c0" /><rect x="1024" y="686" width="1" height="39" fill="#c0c0c0" /><rect x="1032" y="686" width="1" height="36" fill="#c0c0c0" /><rect x="1040" y="686" width="1" height="34" fill="#c0c0c0" /><rect x="1048" y="686" width="1" height="37" fill="#c0c0c0" /><rect x="1056" y="686" width="1" height="38" fill="#c0c0c0" /><rect x="1064" y="686" width="1" height="46" fill="#c0c0c0" /><rect x="1072" y="686" width="1" height="49" fill="#c0c0c0" /><rect x="1080" y="686" width="1" height="52" fill="#c0c0c0" /><rect x="1088" y="686" width="1" height="51" fill="#c0c0c0" /><rect x="1096" y="686" width="1" height="48" fill="#c0c0c0" /><rect x="1104" y="686" width="1" height="46" fill="#c0c0c0" /><rect x="1112" y="686" width="1" height="43" fill="#c0c0c0" /><rect x="1120" y="686" width="1" height="39" fill="#c0c0c0" /><rect x="1128" y="686" width="1" height="37" fill="#c0c0c0" /><rect x="1136" y="686" width="1" height="32" fill="#c0c0c0" /><rect x="1144" y="686" width="1" height="36" fill="#c0c0c0" /><rect x="1152" y="686" width="1" height="35" fill="#c0c0c0" /><rect x="1160" y="686" width="1" height="32" fill="#c0c0c0" /><rect x="1168" y="686" width="1" height="30" fill="#c0c0c0" /><rect x="1176" y="686" width="1" height="28" fill="#c0c0c0" /><rect x="1184" y="686" width="1" height="29" fill="#c0c0c0" /><rect x="1192" y="686" width="1" height="26" fill="#c0c0c0" /><rect x="1200" y="686" width="1" height="26" fill="#c0c0c0" /><rect x="1208" y="686" width="1" height="23" fill="#c0c0c0" /><rect x="1216" y="686" width="1" height="21" fill="#c0c0c0" /><rect x="1224" y="686" width="1" height="18" fill="#c0c0c0" /><rect x="1232" y="686" width="1" height="18" fill="#c0c0c0" /><rect x="1240" y="686" width="1" height="14" fill="#c0c0c0" /><rect x="1248" y="686" width="1" height="10" fill="#c0c0c0" /><rect x="1256" y="686" width="1" height="6" fill="#c0c0c0" /><rect x="1264" y="686" width="1" height="2" fill="#c0c0c0" /><rect x="1272" y="683" width="1" height="4" fill="#c0c0c0" /><rect x="1280" y="676" width="1" height="11" fill="#c0c0c0" /><rect x="1288" y="674" width="1" height="13" fill="#c0c0c0" /><rect x="1296" y="668" width="1" height="19" fill="#c0c0c0" /><rect x="1304" y="661" width="1" height="26" fill="#c0c0c0" /><rect x="1312" y="654" width="1" height="33" fill="#c0c0c0" /><rect x="1320" y="647" width="1" height="40" fill="#c0c0c0" /><rect x="1328" y="640" width="1" height="47" fill="#c0c0c0" /><rect x="1336" y="632" width="1" height="55" fill="#c0c0c0" /><rect x="1344" y="623" width="1" height="64" fill="#c0c0c0" /><rect x="1352" y="614" width="1" height="73" fill="#c0c0c0" /><rect x="1360" y="605" width="1" height="82" fill="#c0c0c0" /><rect x="1368" y="601" width="1" height="86" fill="#c0c0c0" /><rect x="1376" y="597" width="1" height="90" fill="#c0c0c0" /><rect x="1384" y="598" width="1" height="89" fill="#c0c0c0" /><rect x="1392" y="603" width="1" height="84" fill="#c0c0c0" /><rect x="1400" y="605" width="1" height="82" fill="#c0c0c0" /><rect x="1408" y="608" width="1" height="79" fill="#c0c0c0" /><rect x="1416" y="610" width="1" height="77" fill="#c0c0c0" /><rect x="1424" y="614" width="1" height="73" fill="#c0c0c0" /><rect x="1432" y="616" width="1" height="71" fill="#c0c0c0" /><rect x="1440" y="617" width="1" height="70" fill="#c0c0c0" /><rect x="1448" y="611" width="1" height="76" fill="#c0c0c0" /><rect x="1456" y="608" width="1" height="79" fill="#c0c0c0" /><polyline points="0.5,628.3 8.5,631.7 16.5,632.6 24.5,634.5 32.5,637.0 40.5,638.7 48.5,641.6 56.5,645.0 64.5,648.4 72.5,652.2 80.5,656.0 88.5,660.2 96.5,665.0 104.5,669.7 112.5,675.4 120.5,679.8 128.5,683.6 136.5,687.2 144.5,690.1 152.5,691.0 160.5,691.0 168.5,690.7 176.5,686.5 184.5,680.2 192.5,672.6 200.5,662.1 208.5,652.6 216.5,641.2 224.5,629.8 232.5,620.3 240.5,611.7 248.5,606.0 256.5,604.5 264.5,604.1 272.5,606.0 280.5,609.2 288.5,612.6 296.5,617.0 304.5,621.2 312.5,625.0 320.5,629.5 328.5,632.2 336.5,634.9 344.5,637.8 352.5,641.2 360.5,643.7 368.5,645.4 376.5,648.4 384.5,650.7 392.5,653.6 400.5,657.0 408.5,661.2 416.5,665.4 424.5,669.7 432.5,673.0 440.5,675.4 448.5,677.3 456.5,679.8 464.5,679.8 472.5,678.3 480.5,676.8 488.5,673.5 496.5,670.7 504.5,667.8 512.5,665.0 520.5,662.1 528.5,658.9 536.5,657.0 544.5,657.0 552.5,656.0 560.5,657.0 568.5,657.9 576.5,658.7 584.5,661.5 592.5,665.0 600.5,667.8 608.5,670.1 616.5,673.5 624.5,676.8 632.5,678.3 640.5,681.5 648.5,684.0 656.5,685.9 664.5,689.7 672.5,694.5 680.5,701.1 688.5,707.8 696.5,713.1 704.5,718.2 712.5,723.9 720.5,728.7 728.5,731.9 736.5,733.5 744.5,733.8 752.5,732.9 760.5,730.0 768.5,726.8 776.5,723.0 784.5,719.6 792.5,716.9 800.5,713.9 808.5,712.0 816.5,709.7 824.5,706.8 832.5,704.9 840.5,702.6 848.5,701.5 856.5,700.2 864.5,698.8 872.5,697.7 880.5,699.2 888.5,702.1 896.5,703.6 904.5,706.8 912.5,710.1 920.5,713.5 928.5,718.8 936.5,723.6 944.5,727.8 952.5,730.6 960.5,731.9 968.5,734.4 976.5,735.9 984.5,735.9 992.5,735.9 1000.5,735.9 1008.5,735.0 1016.5,733.8 1024.5,732.5 1032.5,730.6 1040.5,729.7 1048.5,728.7 1056.5,728.1 1064.5,728.1 1072.5,728.1 1080.5,728.7 1088.5,729.7 1096.5,731.0 1104.5,731.9 1112.5,732.9 1120.5,732.9 1128.5,732.9 1136.5,731.0 1144.5,729.3 1152.5,728.1 1160.5,725.5 1168.5,723.9 1176.5,722.0 1184.5,720.1 1192.5,718.2 1200.5,716.9 1208.5,716.0 1216.5,714.4 1224.5,712.9 1232.5,711.0 1240.5,709.3 1248.5,707.8 1256.5,704.5 1264.5,701.7 1272.5,698.8 1280.5,694.8 1288.5,691.2 1296.5,687.4 1304.5,683.6 1312.5,676.8 1320.5,671.6 1328.5,665.9 1336.5,659.3 1344.5,653.2 1352.5,646.5 1360.5,639.3 1368.5,631.7 1376.5,624.1 1384.5,617.8 1392.5,612.6 1400.5,608.8 1408.5,606.0 1416.5,605.0 1424.5,605.0 1432.5,606.0 1440.5,607.9 1448.5,608.8 1456.5,609.8" fill="none" stroke="#ff0000" stroke-width="1" stroke-dasharray="3 3"/></g><g clip-path="url(#c3)"><line x1="0" y1="788.5" x2="1659" y2="788.5" stroke="#c0c0c0" stroke-width="1" stroke-dasharray="3 3" stroke-dashoffset="-1"/><line x1="0" y1="839.5" x2="1659" y2="839.5" stroke="#c0c0c0" stroke-width="1" stroke-dasharray="3 3" stroke-dashoffset="-1"/><line x1="0" y1="900.5" x2="1659" y2="900.5" stroke="#c0c0c0" stroke-width="1" stroke-dasharray="3 3" stroke-dashoffset="-1"/><polyline points="0.5,828.9 8.5,819.9 16.5,824.7 24.5,824.7 32.5,831.7 40.5,835.5 48.5,837.1 56.5,848.9 64.5,839.5 72.5,845.6 80.5,839.9 88.5,843.2 96.5,850.4 104.5,854.8 112.5,852.9 120.5,856.7 128.5,842.8 136.5,836.1 144.5,834.6 152.5,826.0 160.5,829.8 168.5,827.0 176.5,805.7 184.5,796.2 192.5,792.9 200.5,792.9 208.5,795.2 216.5,798.1 224.5,802.3 232.5,820.9 240.5,820.9 248.5,825.7 256.5,835.7 264.5,824.7 272.5,819.9 280.5,824.7 288.5,829.8 296.5,824.7 304.5,824.7 312.5,826.6 320.5,830.2 328.5,826.0 336.5,833.8 344.5,830.4 352.5,828.9 360.5,828.9 368.5,828.9 376.5,830.4 384.5,835.7 392.5,834.6 400.5,859.9 408.5,857.0 416.5,859.9 424.5,840.9 432.5,832.3 440.5,823.7 448.5,834.8 456.5,827.6 464.5,821.8 472.5,824.7 480.5,827.9 488.5,829.8 496.5,823.7 504.5,819.6 512.5,815.2 520.5,811.8 528.5,817.1 536.5,837.6 544.5,841.8 552.5,838.0 560.5,840.9 568.5,838.6 576.5,845.6 584.5,841.8 592.5,838.0 600.5,838.0 608.5,837.1 616.5,849.4 624.5,853.6 632.5,842.2 640.5,848.4 648.5,850.8 656.5,851.9 664.5,872.3 672.5,876.1 680.5,882.7 688.5,870.7 696.5,865.6 704.5,853.2 712.5,857.6 720.5,849.8 728.5,846.6 736.5,843.7 744.5,841.8 752.5,853.8 760.5,842.2 768.5,838.6 776.5,847.0 784.5,847.9 792.5,851.0 800.5,840.9 808.5,839.5 816.5,840.9 824.5,841.8 832.5,839.9 840.5,837.6 848.5,847.9 856.5,840.9 864.5,847.5 872.5,868.1 880.5,866.6 888.5,871.3 896.5,847.9 904.5,857.6 912.5,862.8 920.5,866.6 928.5,864.3 936.5,860.5 944.5,864.7 952.5,855.7 960.5,852.9 968.5,855.7 976.5,858.0 984.5,854.8 992.5,864.7 1000.5,858.0 1008.5,858.0 1016.5,852.9 1024.5,849.1 1032.5,850.8 1040.5,851.9 1048.5,863.7 1056.5,859.9 1064.5,875.1 1072.5,865.0 1080.5,866.9 1088.5,856.1 1096.5,854.8 1104.5,858.6 1112.5,848.1 1120.5,848.1 1128.5,851.9 1136.5,844.1 1144.5,861.8 1152.5,849.4 1160.5,845.1 1168.5,847.9 1176.5,847.9 1184.5,854.8 1192.5,846.0 1200.5,849.8 1208.5,844.1 1216.5,844.7 1224.5,839.9 1232.5,847.9 1240.5,838.0 1248.5,835.7 1256.5,833.3 1264.5,831.7 1272.5,827.6 1280.5,819.1 1288.5,831.0 1296.5,820.9 1304.5,813.9 1312.5,811.0 1320.5,811.0 1328.5,802.8 1336.5,799.6 1344.5,798.1 1352.5,790.8 1360.5,790.5 1368.5,791.8 1376.5,793.9 1384.5,802.8 1392.5,812.0 1400.5,808.9 1408.5,807.6 1416.5,807.0 1424.5,811.0 1432.5,809.9 1440.5,805.3 1448.5,791.8 1456.5,795.2" fill="none" stroke="#1e90ff" stroke-width="1.1" shape-rendering="geometricPrecision" stroke-linejoin="round"/></g><rect x="0" y="25" width="1660" height="1" fill="#000" /><rect x="1659" y="25" width="1" height="554" fill="#000" /><rect x="0" y="578" width="1660" height="1" fill="#000" /><rect x="0" y="580" width="1660" height="1" fill="#000" /><rect x="1659" y="580" width="1" height="171" fill="#000" /><rect x="0" y="750" width="1660" height="1" fill="#000" /><rect x="0" y="752" width="1660" height="1" fill="#000" /><rect x="1659" y="752" width="1" height="175" fill="#000" /><rect x="0" y="926" width="1660" height="1" fill="#000" /><rect x="1660" y="47" width="2" height="1" fill="#000" /><text x="1665.4" y="50.6" font-size="9.05" fill="#000" text-anchor="start" font-weight="normal" shape-rendering="auto" stroke="#000" stroke-width="0.12">131.390</text><rect x="1660" y="80" width="2" height="1" fill="#000" /><text x="1665.4" y="83.6" font-size="9.05" fill="#000" text-anchor="start" font-weight="normal" shape-rendering="auto" stroke="#000" stroke-width="0.12">131.065</text><rect x="1660" y="113" width="2" height="1" fill="#000" /><text x="1665.4" y="116.6" font-size="9.05" fill="#000" text-anchor="start" font-weight="normal" shape-rendering="auto" stroke="#000" stroke-width="0.12">130.740</text><rect x="1660" y="146" width="2" height="1" fill="#000" /><text x="1665.4" y="149.6" font-size="9.05" fill="#000" text-anchor="start" font-weight="normal" shape-rendering="auto" stroke="#000" stroke-width="0.12">130.420</text><rect x="1660" y="179" width="2" height="1" fill="#000" /><text x="1665.4" y="182.6" font-size="9.05" fill="#000" text-anchor="start" font-weight="normal" shape-rendering="auto" stroke="#000" stroke-width="0.12">130.100</text><rect x="1660" y="212" width="2" height="1" fill="#000" /><text x="1665.4" y="215.6" font-size="9.05" fill="#000" text-anchor="start" font-weight="normal" shape-rendering="auto" stroke="#000" stroke-width="0.12">129.780</text><rect x="1660" y="245" width="2" height="1" fill="#000" /><text x="1665.4" y="248.6" font-size="9.05" fill="#000" text-anchor="start" font-weight="normal" shape-rendering="auto" stroke="#000" stroke-width="0.12">129.460</text><rect x="1660" y="278" width="2" height="1" fill="#000" /><text x="1665.4" y="281.6" font-size="9.05" fill="#000" text-anchor="start" font-weight="normal" shape-rendering="auto" stroke="#000" stroke-width="0.12">129.135</text><rect x="1660" y="311" width="2" height="1" fill="#000" /><text x="1665.4" y="314.6" font-size="9.05" fill="#000" text-anchor="start" font-weight="normal" shape-rendering="auto" stroke="#000" stroke-width="0.12">128.815</text><rect x="1660" y="344" width="2" height="1" fill="#000" /><text x="1665.4" y="347.6" font-size="9.05" fill="#000" text-anchor="start" font-weight="normal" shape-rendering="auto" stroke="#000" stroke-width="0.12">128.495</text><rect x="1660" y="377" width="2" height="1" fill="#000" /><text x="1665.4" y="380.6" font-size="9.05" fill="#000" text-anchor="start" font-weight="normal" shape-rendering="auto" stroke="#000" stroke-width="0.12">128.170</text><rect x="1660" y="410" width="2" height="1" fill="#000" /><text x="1665.4" y="413.6" font-size="9.05" fill="#000" text-anchor="start" font-weight="normal" shape-rendering="auto" stroke="#000" stroke-width="0.12">127.850</text><rect x="1660" y="443" width="2" height="1" fill="#000" /><text x="1665.4" y="446.6" font-size="9.05" fill="#000" text-anchor="start" font-weight="normal" shape-rendering="auto" stroke="#000" stroke-width="0.12">127.530</text><rect x="1660" y="476" width="2" height="1" fill="#000" /><text x="1665.4" y="479.6" font-size="9.05" fill="#000" text-anchor="start" font-weight="normal" shape-rendering="auto" stroke="#000" stroke-width="0.12">127.205</text><rect x="1660" y="509" width="2" height="1" fill="#000" /><text x="1665.4" y="512.6" font-size="9.05" fill="#000" text-anchor="start" font-weight="normal" shape-rendering="auto" stroke="#000" stroke-width="0.12">126.885</text><rect x="1660" y="542" width="2" height="1" fill="#000" /><text x="1665.4" y="545.6" font-size="9.05" fill="#000" text-anchor="start" font-weight="normal" shape-rendering="auto" stroke="#000" stroke-width="0.12">126.565</text><rect x="1660" y="575" width="2" height="1" fill="#000" /><text x="1665.4" y="578.6" font-size="9.05" fill="#000" text-anchor="start" font-weight="normal" shape-rendering="auto" stroke="#000" stroke-width="0.12">126.240</text><rect x="1661" y="38" width="41" height="11" fill="#ff0000" /><text x="1665.6" y="46.7" font-size="9.05" fill="#fff" text-anchor="start" font-weight="normal" shape-rendering="auto" stroke="#fff" stroke-width="0.12">131.415</text><rect x="1661" y="68" width="41" height="11" fill="#ff0000" /><text x="1665.6" y="76.7" font-size="9.05" fill="#fff" text-anchor="start" font-weight="normal" shape-rendering="auto" stroke="#fff" stroke-width="0.12">131.123</text><rect x="1661" y="100" width="41" height="11" fill="#000000" /><text x="1665.6" y="108.7" font-size="9.05" fill="#fff" text-anchor="start" font-weight="normal" shape-rendering="auto" stroke="#fff" stroke-width="0.12">130.828</text><rect x="1661" y="112" width="41" height="11" fill="#32cd32" /><text x="1665.6" y="120.7" font-size="9.05" fill="#fff" text-anchor="start" font-weight="normal" shape-rendering="auto" stroke="#fff" stroke-width="0.12">130.695</text><rect x="1661" y="141" width="41" height="11" fill="#0000ff" /><text x="1665.6" y="149.7" font-size="9.05" fill="#fff" text-anchor="start" font-weight="normal" shape-rendering="auto" stroke="#fff" stroke-width="0.12">130.413</text><rect x="1661" y="175" width="41" height="11" fill="#0000ff" /><text x="1665.6" y="183.7" font-size="9.05" fill="#fff" text-anchor="start" font-weight="normal" shape-rendering="auto" stroke="#fff" stroke-width="0.12">130.082</text><rect x="1660" y="582" width="2" height="1" fill="#000" /><rect x="1660" y="686" width="2" height="1" fill="#000" /><rect x="1660" y="743" width="2" height="1" fill="#000" /><text x="1663" y="591" font-size="9.05" fill="#000" text-anchor="start" font-weight="normal" shape-rendering="auto">0.8415</text><text x="1663" y="690" font-size="9.05" fill="#000" text-anchor="start" font-weight="normal" shape-rendering="auto">0.00</text><text x="1663" y="747" font-size="9.05" fill="#000" text-anchor="start" font-weight="normal" shape-rendering="auto">-0.5112</text><rect x="1660" y="754" width="2" height="1" fill="#000" /><text x="1663" y="762.6" font-size="9.05" fill="#000" text-anchor="start" font-weight="normal" shape-rendering="auto">100</text><rect x="1660" y="788" width="2" height="1" fill="#000" /><text x="1663" y="791.6" font-size="9.05" fill="#000" text-anchor="start" font-weight="normal" shape-rendering="auto">80</text><rect x="1660" y="839" width="2" height="1" fill="#000" /><text x="1663" y="842.6" font-size="9.05" fill="#000" text-anchor="start" font-weight="normal" shape-rendering="auto">50</text><rect x="1660" y="900" width="2" height="1" fill="#000" /><text x="1663" y="903.6" font-size="9.05" fill="#000" text-anchor="start" font-weight="normal" shape-rendering="auto">15</text><rect x="1660" y="919" width="2" height="1" fill="#000" /><text x="1663" y="922.6" font-size="9.05" fill="#000" text-anchor="start" font-weight="normal" shape-rendering="auto">0</text><rect x="0" y="927" width="1" height="3" fill="#000" /><text x="-1" y="939" font-size="9.45" fill="#000" text-anchor="start" font-weight="normal" shape-rendering="auto">22 Apr 2022</text><rect x="64" y="927" width="1" height="3" fill="#000" /><text x="63.5" y="939" font-size="9.45" fill="#000" text-anchor="start" font-weight="normal" shape-rendering="auto">25 Apr 16:00</text><rect x="128" y="927" width="1" height="3" fill="#000" /><text x="127.5" y="939" font-size="9.45" fill="#000" text-anchor="start" font-weight="normal" shape-rendering="auto">27 Apr 00:00</text><rect x="192" y="927" width="1" height="3" fill="#000" /><text x="191.5" y="939" font-size="9.45" fill="#000" text-anchor="start" font-weight="normal" shape-rendering="auto">28 Apr 08:00</text><rect x="256" y="927" width="1" height="3" fill="#000" /><text x="255.5" y="939" font-size="9.45" fill="#000" text-anchor="start" font-weight="normal" shape-rendering="auto">29 Apr 16:00</text><rect x="320" y="927" width="1" height="3" fill="#000" /><text x="319.5" y="939" font-size="9.45" fill="#000" text-anchor="start" font-weight="normal" shape-rendering="auto">3 May 00:00</text><rect x="384" y="927" width="1" height="3" fill="#000" /><text x="383.5" y="939" font-size="9.45" fill="#000" text-anchor="start" font-weight="normal" shape-rendering="auto">4 May 08:00</text><rect x="448" y="927" width="1" height="3" fill="#000" /><text x="447.5" y="939" font-size="9.45" fill="#000" text-anchor="start" font-weight="normal" shape-rendering="auto">5 May 16:00</text><rect x="512" y="927" width="1" height="3" fill="#000" /><text x="511.5" y="939" font-size="9.45" fill="#000" text-anchor="start" font-weight="normal" shape-rendering="auto">9 May 00:00</text><rect x="576" y="927" width="1" height="3" fill="#000" /><text x="575.5" y="939" font-size="9.45" fill="#000" text-anchor="start" font-weight="normal" shape-rendering="auto">10 May 08:00</text><rect x="640" y="927" width="1" height="3" fill="#000" /><text x="639.5" y="939" font-size="9.45" fill="#000" text-anchor="start" font-weight="normal" shape-rendering="auto">11 May 16:00</text><rect x="704" y="927" width="1" height="3" fill="#000" /><text x="703.5" y="939" font-size="9.45" fill="#000" text-anchor="start" font-weight="normal" shape-rendering="auto">13 May 00:00</text><rect x="768" y="927" width="1" height="3" fill="#000" /><text x="767.5" y="939" font-size="9.45" fill="#000" text-anchor="start" font-weight="normal" shape-rendering="auto">16 May 08:00</text><rect x="832" y="927" width="1" height="3" fill="#000" /><text x="831.5" y="939" font-size="9.45" fill="#000" text-anchor="start" font-weight="normal" shape-rendering="auto">17 May 16:00</text><rect x="896" y="927" width="1" height="3" fill="#000" /><text x="895.5" y="939" font-size="9.45" fill="#000" text-anchor="start" font-weight="normal" shape-rendering="auto">19 May 00:00</text><rect x="960" y="927" width="1" height="3" fill="#000" /><text x="959.5" y="939" font-size="9.45" fill="#000" text-anchor="start" font-weight="normal" shape-rendering="auto">20 May 08:00</text><rect x="1024" y="927" width="1" height="3" fill="#000" /><text x="1023.5" y="939" font-size="9.45" fill="#000" text-anchor="start" font-weight="normal" shape-rendering="auto">23 May 16:00</text><rect x="1088" y="927" width="1" height="3" fill="#000" /><text x="1087.5" y="939" font-size="9.45" fill="#000" text-anchor="start" font-weight="normal" shape-rendering="auto">25 May 00:00</text><rect x="1152" y="927" width="1" height="3" fill="#000" /><text x="1151.5" y="939" font-size="9.45" fill="#000" text-anchor="start" font-weight="normal" shape-rendering="auto">26 May 08:00</text><rect x="1216" y="927" width="1" height="3" fill="#000" /><text x="1215.5" y="939" font-size="9.45" fill="#000" text-anchor="start" font-weight="normal" shape-rendering="auto">27 May 16:00</text><rect x="1280" y="927" width="1" height="3" fill="#000" /><text x="1279.5" y="939" font-size="9.45" fill="#000" text-anchor="start" font-weight="normal" shape-rendering="auto">31 May 00:00</text><rect x="1344" y="927" width="1" height="3" fill="#000" /><text x="1343.5" y="939" font-size="9.45" fill="#000" text-anchor="start" font-weight="normal" shape-rendering="auto">1 Jun 08:00</text><rect x="1408" y="927" width="1" height="3" fill="#000" /><text x="1407.5" y="939" font-size="9.45" fill="#000" text-anchor="start" font-weight="normal" shape-rendering="auto">2 Jun 16:00</text><polygon points="3.3,36.8 10.7,36.8 7,32.4" fill="#000" shape-rendering="auto"/><text x="15" y="37" font-size="9.05" fill="#000" text-anchor="start" font-weight="normal" shape-rendering="auto" xml:space="preserve" textLength="201" lengthAdjust="spacingAndGlyphs">USDJPY-,H4&#160; 130.938 130.970 130.787 130.828</text><text x="4" y="592.5" font-size="9.05" fill="#000" text-anchor="start" font-weight="normal" shape-rendering="auto" textLength="127.5" lengthAdjust="spacingAndGlyphs">MACD(12,26,9) 0.6386 0.6176</text><text x="4" y="764.5" font-size="9.05" fill="#000" text-anchor="start" font-weight="normal" shape-rendering="auto">RSI(14) 75.5831</text><rect x="1" y="43" width="223" height="61" fill="#fff" /><rect x="3" y="45" width="52" height="24" fill="url(#gb)" /><rect x="170" y="45" width="52" height="24" fill="url(#gb)" /><rect x="3" y="69" width="109" height="33" fill="url(#gp)" /><rect x="114" y="69" width="108" height="33" fill="url(#gp)" /><rect x="3" y="45" width="52" height="1" fill="#1414a8" /><rect x="3" y="45" width="1" height="57" fill="#1414a8" /><rect x="54" y="45" width="1" height="24" fill="#1414a8" /><rect x="3" y="101" width="109" height="1" fill="#1414a8" /><rect x="111" y="69" width="1" height="33" fill="#1414a8" /><rect x="55" y="69" width="57" height="1" fill="#1414a8" /><rect x="170" y="45" width="52" height="1" fill="#1414a8" /><rect x="221" y="45" width="1" height="57" fill="#1414a8" /><rect x="170" y="45" width="1" height="24" fill="#1414a8" /><rect x="114" y="101" width="108" height="1" fill="#1414a8" /><rect x="114" y="69" width="1" height="33" fill="#1414a8" /><rect x="114" y="69" width="57" height="1" fill="#1414a8" /><rect x="7" y="68" width="44" height="1" fill="#1c1cb0" /><rect x="174" y="68" width="44" height="1" fill="#1c1cb0" /><rect x="7" y="69" width="44" height="1" fill="#8484f4" /><rect x="174" y="69" width="44" height="1" fill="#8484f4" /><rect x="57.5" y="45.5" width="110" height="21" fill="#fff" stroke="#b4b4b4" stroke-width="1"/><rect x="59" y="47" width="19" height="18" fill="url(#gs)" /><rect x="147" y="47" width="19" height="18" fill="url(#gs)" /><rect x="78" y="47" width="1" height="18" fill="#c8c8c8" /><rect x="146" y="47" width="1" height="18" fill="#c8c8c8" /><polygon points="65,54 71,54 68,57.5" fill="#5a64b4" shape-rendering="auto"/><polygon points="153,57.5 159,57.5 156,54" fill="#5a64b4" shape-rendering="auto"/><text x="142.4" y="60.5" font-size="12" fill="#000" text-anchor="end" font-weight="normal" shape-rendering="auto">1.00</text><text x="28" y="61" font-size="12.5" fill="#fff" text-anchor="middle" font-weight="normal" shape-rendering="auto" textLength="25" lengthAdjust="spacingAndGlyphs">SELL</text><text x="195.2" y="61" font-size="12.5" fill="#fff" text-anchor="middle" font-weight="normal" shape-rendering="auto" textLength="22" lengthAdjust="spacingAndGlyphs">BUY</text><text x="27" y="96.8" font-size="11" fill="#fff" text-anchor="start" font-weight="bold" shape-rendering="auto" textLength="20" lengthAdjust="spacingAndGlyphs">130</text><text x="51.2" y="96.5" font-size="32.5" fill="#fff" text-anchor="start" font-weight="normal" shape-rendering="auto" textLength="34" lengthAdjust="spacingAndGlyphs">82</text><text x="90" y="80.4" font-size="10.5" fill="#fff" text-anchor="start" font-weight="bold" shape-rendering="auto">8</text><text x="138" y="96.8" font-size="11" fill="#fff" text-anchor="start" font-weight="bold" shape-rendering="auto" textLength="20" lengthAdjust="spacingAndGlyphs">130</text><text x="162.2" y="96.5" font-size="32.5" fill="#fff" text-anchor="start" font-weight="normal" shape-rendering="auto" textLength="34" lengthAdjust="spacingAndGlyphs">84</text><text x="201" y="80.4" font-size="10.5" fill="#fff" text-anchor="start" font-weight="bold" shape-rendering="auto">8</text></svg>
<div id="tb"><div class="ln1"></div><div class="ln2"></div><svg width="1707" height="23" viewBox="0 0 1707 23" style="position:absolute;left:0;top:0" font-family='"Liberation Sans","Noto Sans CJK SC",sans-serif'><defs><linearGradient id="gold" x1="0" y1="0" x2="1" y2="1"><stop offset="0" stop-color="#f8e080"/><stop offset="0.5" stop-color="#e0a818"/><stop offset="1" stop-color="#a87010"/></linearGradient><linearGradient id="grn" x1="0" y1="0" x2="0" y2="1"><stop offset="0" stop-color="#60e860"/><stop offset="1" stop-color="#10a010"/></linearGradient><radialGradient id="lens" cx="0.4" cy="0.35" r="0.7"><stop offset="0" stop-color="#eef6ff"/><stop offset="1" stop-color="#a8c8f0"/></radialGradient><linearGradient id="badge" x1="0" y1="0" x2="0" y2="1"><stop offset="0" stop-color="#ec5a38"/><stop offset="1" stop-color="#dc1808"/></linearGradient><linearGradient id="blu" x1="0" y1="0" x2="0" y2="1"><stop offset="0" stop-color="#3c8ce8"/><stop offset="1" stop-color="#1048b0"/></linearGradient><pattern id="chk" width="2" height="2" patternUnits="userSpaceOnUse"><rect width="2" height="2" fill="#fbfbfb"/><rect width="1" height="1" fill="#f0f0f0"/><rect x="1" y="1" width="1" height="1" fill="#f0f0f0"/></pattern></defs><rect x="-3" y="1.5" width="10.5" height="9" fill="#fff" stroke="#a0a0a0" stroke-width="1"/><rect x="1" y="5" width="3.5" height="5" fill="#a8b0b8"/><line x1="7.5" y1="14.2" x2="12" y2="17.8" stroke="#c09828" stroke-width="2.6" stroke-linecap="round"/><circle cx="3.6" cy="10.6" r="5.2" fill="#b8d4f0" fill-opacity="0.75" stroke="#6898d0" stroke-width="1.2"/><rect x="20" y="0" width="1" height="19" fill="#a0a0a0"/><path d="M30.5 2 H38.5 L41.5 5 V14 H30.5 Z" fill="#fff" stroke="#808080" stroke-width="1"/><path d="M38.5 2 V5 H41.5" fill="#e0e0e0" stroke="#808080" stroke-width="0.8"/><path d="M32.5 4.5 H35 M32.5 7 H38 M32.5 9.5 H38" stroke="#909090" stroke-width="1"/><path d="M38.3 7.6 H42.1 V11.2 H45.8 V15 H42.1 V18.6 H38.3 V15 H34.5 V11.2 H38.3 Z" fill="url(#grn)" stroke="#088008" stroke-width="0.8"/><text x="48.5" y="13.2" font-size="12.2" fill="#000">新订单</text><path d="M104 2.2 L112.8 8.6 L107 16.8 L97 11.4 Z" fill="url(#gold)" stroke="#a87818" stroke-width="0.9"/><path d="M97 11.4 L107 16.8 L107.8 15.2 L98.2 10" fill="#b07818"/><path d="M128 2.5 L133 1 L137.5 2.5 V10.5 H128 Z" fill="url(#blu)" stroke="#1850a8" stroke-width="0.7"/><path d="M130 4.5 H136 M130 6.5 H134" stroke="#d0e8ff" stroke-width="1"/><path d="M128.5 16.5 a3 3 0 0 1 0.3 -6 a3.6 3.6 0 0 1 6.6 -1.2 a3 3 0 0 1 4.2 2 a2.7 2.7 0 0 1 -0.6 5.2 Z" fill="#e8f0fa" stroke="#7898c8" stroke-width="1"/><circle cx="160.5" cy="9" r="7.3" fill="none" stroke="#c8d4ec" stroke-width="1.4"/><path d="M156.5 14.2 A6.6 6.6 0 0 1 160.5 2.4" fill="none" stroke="#5080d8" stroke-width="1.3"/><path d="M160.5 2.4 A6.6 6.6 0 0 1 164.8 14" fill="none" stroke="#58a858" stroke-width="1.3"/><path d="M158 11.8 A3.7 3.7 0 0 1 160.5 5.3" fill="none" stroke="#5080d8" stroke-width="1.3"/><path d="M160.5 5.3 A3.7 3.7 0 0 1 163.2 11.6" fill="none" stroke="#58a858" stroke-width="1.3"/><circle cx="160.7" cy="8.6" r="1.5" fill="#3060c8"/><path d="M161 9 V16.4 A4 4 0 0 0 165 13" fill="none" stroke="#30a830" stroke-width="1.7"/><path d="M182 7 L196 7 L194.5 12.5 L188.5 16.5 L183.5 12.5 Z" fill="#f8d850" stroke="#d0a020" stroke-width="0.8"/><ellipse cx="188.4" cy="6.4" rx="8" ry="2.6" fill="#5898e0" stroke="#3070c0" stroke-width="0.7"/><path d="M184 5.8 Q184.5 1 188.5 1 Q192.5 1 193 5.8 Z" fill="#4888d8" stroke="#3070c0" stroke-width="0.7"/><circle cx="192.3" cy="12.8" r="4.2" fill="#e02818" stroke="#b81808" stroke-width="0.6"/><rect x="190.6" y="11.1" width="3.4" height="3.4" fill="#fff"/><text x="201.3" y="13.2" font-size="11.9" fill="#000">自动交易</text><rect x="256" y="0" width="1" height="20" fill="#a0a0a0"/><rect x="260" y="2" width="3" height="1" fill="#b0b0b0"/><rect x="260" y="4" width="3" height="1" fill="#b0b0b0"/><rect x="260" y="6" width="3" height="1" fill="#b0b0b0"/><rect x="260" y="8" width="3" height="1" fill="#b0b0b0"/><rect x="260" y="10" width="3" height="1" fill="#b0b0b0"/><rect x="260" y="12" width="3" height="1" fill="#b0b0b0"/><rect x="260" y="14" width="3" height="1" fill="#b0b0b0"/><rect x="260" y="16" width="3" height="1" fill="#b0b0b0"/><rect x="260" y="18" width="3" height="1" fill="#b0b0b0"/><path d="M274.5 3 V17 M272.0 14.5 H285.5" stroke="#505050" stroke-width="1.1" fill="none"/><path d="M272.7 5.2 L274.5 2.8 L276.3 5.2 M283.5 12.7 L285.9 14.5 L283.5 16.3" stroke="#505050" stroke-width="1.1" fill="none"/><path d="M280.8 4.5 V11.7 M280.8 5 H283 M278.4 11.2 H280.8" stroke="#18a018" stroke-width="1.3" fill="none"/><rect x="294" y="1" width="1" height="18" fill="#a0a0a0"/><rect x="295" y="0" width="24" height="20" fill="url(#chk)"/><rect x="295" y="0" width="1" height="20" fill="#a4a4a4"/><path d="M302.4 3 V17 M299.9 14.5 H313.4" stroke="#505050" stroke-width="1.1" fill="none"/><path d="M300.59999999999997 5.2 L302.4 2.8 L304.2 5.2 M311.4 12.7 L313.79999999999995 14.5 L311.4 16.3" stroke="#505050" stroke-width="1.1" fill="none"/><rect x="308" y="1" width="1" height="11.2" fill="#108810"/><rect x="306.3" y="3.3" width="4.4" height="7.3" fill="#30d840" stroke="#108810" stroke-width="0.8"/><path d="M330.5 3 V17 M328.0 14.5 H341.5" stroke="#505050" stroke-width="1.1" fill="none"/><path d="M328.7 5.2 L330.5 2.8 L332.3 5.2 M339.5 12.7 L341.9 14.5 L339.5 16.3" stroke="#505050" stroke-width="1.1" fill="none"/><path d="M329 11.8 Q333 5.5 335.5 6.2 Q338 7 340.8 10.6" fill="none" stroke="#189818" stroke-width="1.2"/><rect x="351" y="1" width="1" height="18" fill="#a0a0a0"/><line x1="370.08" y1="10.68" x2="375.28" y2="16.08" stroke="#c8a020" stroke-width="3" stroke-linecap="round"/><line x1="370.47999999999996" y1="10.48" x2="375.47999999999996" y2="15.68" stroke="#f0d870" stroke-width="1"/><circle cx="366.3" cy="6.9" r="5.4" fill="url(#lens)" stroke="#4a88d0" stroke-width="1.3"/><rect x="363.1" y="6.0" width="6.4" height="1.8" fill="#3878c0"/><rect x="365.40000000000003" y="3.7" width="1.8" height="6.4" fill="#3878c0"/><line x1="397.97999999999996" y1="10.68" x2="403.17999999999995" y2="16.08" stroke="#c8a020" stroke-width="3" stroke-linecap="round"/><line x1="398.37999999999994" y1="10.48" x2="403.37999999999994" y2="15.68" stroke="#f0d870" stroke-width="1"/><circle cx="394.2" cy="6.9" r="5.4" fill="url(#lens)" stroke="#4a88d0" stroke-width="1.3"/><rect x="391.0" y="6.0" width="6.4" height="1.8" fill="#3878c0"/><rect x="416.4" y="1.1" width="7.6" height="7.6" fill="#58b038" stroke="#308818" stroke-width="0.6"/><rect x="417.59999999999997" y="3.9" width="5.2" height="3.6" fill="#fff" fill-opacity="0.92"/><rect x="418.59999999999997" y="5.1" width="3.2" height="0.9" fill="#58b038"/><rect x="424.6" y="1.1" width="7.6" height="7.6" fill="#3870d8" stroke="#1848b0" stroke-width="0.6"/><rect x="425.8" y="3.9" width="5.2" height="3.6" fill="#fff" fill-opacity="0.92"/><rect x="426.8" y="5.1" width="3.2" height="0.9" fill="#3870d8"/><rect x="416.4" y="9.3" width="7.6" height="7.6" fill="#3870d8" stroke="#1848b0" stroke-width="0.6"/><rect x="417.59999999999997" y="12.100000000000001" width="5.2" height="3.6" fill="#fff" fill-opacity="0.92"/><rect x="418.59999999999997" y="13.3" width="3.2" height="0.9" fill="#3870d8"/><rect x="424.6" y="9.3" width="7.6" height="7.6" fill="#58b038" stroke="#308818" stroke-width="0.6"/><rect x="425.8" y="12.100000000000001" width="5.2" height="3.6" fill="#fff" fill-opacity="0.92"/><rect x="426.8" y="13.3" width="3.2" height="0.9" fill="#58b038"/><rect x="441" y="1" width="1" height="18" fill="#a0a0a0"/><rect x="446" y="0" width="24" height="20" fill="url(#chk)"/><rect x="446" y="0" width="1" height="20" fill="#a4a4a4"/><path d="M454.5 3 V17 M452.0 14.5 H465.5" stroke="#505050" stroke-width="1.1" fill="none"/><path d="M452.7 5.2 L454.5 2.8 L456.3 5.2 M463.5 12.7 L465.9 14.5 L463.5 16.3" stroke="#505050" stroke-width="1.1" fill="none"/><path d="M459.3 5.6 L462.8 8.7 L459.3 11.8 Z" fill="#a8f0a8" stroke="#18a018" stroke-width="1"/><rect x="474" y="0" width="24" height="20" fill="url(#chk)"/><rect x="474" y="0" width="1" height="20" fill="#a4a4a4"/><path d="M482.3 3 V17 M479.8 14.5 H493.3" stroke="#505050" stroke-width="1.1" fill="none"/><path d="M480.5 5.2 L482.3 2.8 L484.1 5.2 M491.3 12.7 L493.7 14.5 L491.3 16.3" stroke="#505050" stroke-width="1.1" fill="none"/><rect x="488.2" y="3" width="1.1" height="9.5" fill="#1870c0"/><path d="M494.2 8.6 H490 M492.2 6.6 L490 8.6 L492.2 10.6" stroke="#e03010" stroke-width="1.1" fill="none"/><rect x="503" y="1" width="1" height="18" fill="#a0a0a0"/><path d="M513.5 1.5 H520.5 L524.5 5 V14.5 H513.5 Z" fill="#fff" stroke="#909090" stroke-width="1"/><path d="M516 6 V11 M516 6 H518.5 M516 8.5 H518" stroke="#808080" stroke-width="0.9" fill="none"/><path d="M521.3 7.2 H525.1 V10.9 H528.9 V14.7 H525.1 V18.4 H521.3 V14.7 H517.5 V10.9 H521.3 Z" fill="url(#grn)" stroke="#088008" stroke-width="0.8"/><polygon points="534.4,8 540.4,8 537.4,11.2" fill="#000"/><circle cx="558.9" cy="8.9" r="7" fill="#fff" stroke="url(#blu)" stroke-width="2"/><circle cx="558.9" cy="8.9" r="7.8" fill="none" stroke="#1850b0" stroke-width="0.5"/><path d="M558.9 4.5 V9 H562.2" stroke="#505050" stroke-width="1.1" fill="none"/><path d="M558.9 2.8 V3.8 M558.9 14 V15 M552.8 8.9 H553.8 M564 8.9 H565" stroke="#909090" stroke-width="0.9"/><polygon points="573.4,8 579.4,8 576.4,11.2" fill="#000"/><rect x="590.8" y="2.4" width="14.8" height="12.8" fill="#fff" stroke="#2868c8" stroke-width="1.2"/><rect x="590.8" y="2.4" width="14.8" height="2" fill="#2868c8"/><rect x="591.4" y="9.2" width="13.6" height="0.8" fill="#2868c8"/><path d="M592.5 8 L595.5 7.2 L598 6.2 L600.5 7.2 L604 5.8" stroke="#a02010" stroke-width="1.1" fill="none"/><path d="M592.5 13.4 L595.5 12.6 L598 13.4 L600.5 11.6 L604 13" stroke="#18a018" stroke-width="1.1" fill="none"/><polygon points="612.4,8 618.4,8 615.4,11.2" fill="#000"/><rect x="624" y="0" width="1" height="20" fill="#808080"/><rect x="628" y="2" width="3" height="1" fill="#b0b0b0"/><rect x="628" y="4" width="3" height="1" fill="#b0b0b0"/><rect x="628" y="6" width="3" height="1" fill="#b0b0b0"/><rect x="628" y="8" width="3" height="1" fill="#b0b0b0"/><rect x="628" y="10" width="3" height="1" fill="#b0b0b0"/><rect x="628" y="12" width="3" height="1" fill="#b0b0b0"/><rect x="628" y="14" width="3" height="1" fill="#b0b0b0"/><rect x="628" y="16" width="3" height="1" fill="#b0b0b0"/><rect x="628" y="18" width="3" height="1" fill="#b0b0b0"/><rect x="634" y="0" width="25" height="20" fill="url(#chk)"/><rect x="634" y="0" width="1" height="20" fill="#a4a4a4"/><path d="M642.3 2 L642.3 13.6 L645 11 L647.4 16 L649.4 15 L647.1 10.2 L650.6 10 Z" fill="#404040"/><path d="M667.3 9.5 H681.8 M674.5 2.2 V16.7" stroke="#404040" stroke-width="1.1"/><rect x="674" y="9" width="1" height="1" fill="#f0f0f0"/><rect x="691" y="1" width="1" height="18" fill="#a0a0a0"/><rect x="707.9" y="3.3" width="1.3" height="12.3" fill="#404040"/><rect x="731.3" y="8.9" width="11.8" height="1.2" fill="#404040"/><line x1="758.6" y1="16.1" x2="770.8" y2="3.9" stroke="#505050" stroke-width="1.2"/><path d="M785 11 L797.5 3.8 M787 15.5 L799 8.2" stroke="#505050" stroke-width="1.1"/><path d="M789 13.5 L790.5 8 M792 12 L793.5 6 M795 10.5 L796.5 4.5" stroke="#505050" stroke-width="1"/><text x="796" y="17.8" font-size="6.5" font-weight="bold" fill="#303030">E</text><line x1="814" y1="2.4" x2="827.3" y2="2.4" stroke="#505050" stroke-width="1" stroke-dasharray="1.2 1.2"/><line x1="814" y1="5.2" x2="827.3" y2="5.2" stroke="#505050" stroke-width="1" stroke-dasharray="1.2 1.2"/><line x1="814" y1="9.6" x2="827.3" y2="9.6" stroke="#505050" stroke-width="1" stroke-dasharray="1.2 1.2"/><line x1="814" y1="13.4" x2="823.5" y2="13.4" stroke="#505050" stroke-width="1" stroke-dasharray="1.2 1.2"/><text x="824" y="17.8" font-size="6.5" font-weight="bold" fill="#303030">F</text><text x="848.7" y="13.9" font-size="12.6" fill="#606060" stroke="#606060" stroke-width="0.35" text-anchor="middle">A</text><rect x="871.2" y="3.3" width="11.2" height="12" fill="none" stroke="#505050" stroke-width="1" stroke-dasharray="1.2 1.2"/><text x="876.9" y="13.6" font-size="11.5" font-weight="bold" fill="#505050" text-anchor="middle">T</text><path d="M898 6.2 L901.8 3 L905.6 6.2 L901.8 8 Z" fill="#404040"/><path d="M904.5 12.2 L908.3 10.4 L912 12.2 L908.3 15.6 Z" fill="#404040"/><path d="M900.5 10 L903.3 12.6 L908 6.8" stroke="#404040" stroke-width="1.2" fill="none"/><polygon points="918.4,8 924.4,8 921.4,11.2" fill="#000"/><rect x="930" y="0" width="1" height="20" fill="#808080"/><rect x="933" y="2" width="3" height="1" fill="#b0b0b0"/><rect x="933" y="4" width="3" height="1" fill="#b0b0b0"/><rect x="933" y="6" width="3" height="1" fill="#b0b0b0"/><rect x="933" y="8" width="3" height="1" fill="#b0b0b0"/><rect x="933" y="10" width="3" height="1" fill="#b0b0b0"/><rect x="933" y="12" width="3" height="1" fill="#b0b0b0"/><rect x="933" y="14" width="3" height="1" fill="#b0b0b0"/><rect x="933" y="16" width="3" height="1" fill="#b0b0b0"/><rect x="933" y="18" width="3" height="1" fill="#b0b0b0"/><rect x="1080" y="0" width="25" height="20" fill="url(#chk)"/><rect x="1080" y="0" width="1" height="20" fill="#a4a4a4"/><text x="952" y="12.9" font-size="9.6" fill="#404040" text-anchor="middle">M1</text><text x="979.7" y="12.9" font-size="9.6" fill="#404040" text-anchor="middle">M5</text><text x="1008.2" y="12.9" font-size="9.6" fill="#404040" text-anchor="middle">M15</text><text x="1036.4" y="12.9" font-size="9.6" fill="#404040" text-anchor="middle">M30</text><text x="1064.4" y="12.9" font-size="9.6" fill="#404040" text-anchor="middle">H1</text><text x="1091.9" y="12.9" font-size="9.6" fill="#404040" text-anchor="middle">H4</text><text x="1120.3" y="12.9" font-size="9.6" fill="#404040" text-anchor="middle">D1</text><text x="1149.1" y="12.9" font-size="9.6" fill="#404040" text-anchor="middle">W1</text><text x="1176.1" y="12.9" font-size="9.6" fill="#404040" text-anchor="middle">MN</text><rect x="1191" y="0" width="1" height="20" fill="#a0a0a0"/><line x1="1658.6" y1="9.6" x2="1654" y2="13.3" stroke="#2058c8" stroke-width="2.6" stroke-linecap="round"/><circle cx="1661.6" cy="6.5" r="3.9" fill="#f4f4ff" stroke="#2860d0" stroke-width="1.3"/><path d="M1680.6 17 L1681.6 14.6 A5.6 4.7 0 1 1 1685.6 15.7 Z" fill="#dcdce8" stroke="#a8a8a8" stroke-width="0.9"/><ellipse cx="1684" cy="17.5" rx="4.5" ry="0.6" fill="#c8c8c8"/><circle cx="1692.6" cy="7.1" r="7.9" fill="url(#badge)"/><text x="1691.9" y="11.4" font-size="14" font-weight="bold" fill="#fff" text-anchor="middle" font-family='"Liberation Serif",serif'>1</text></svg></div>
</body></html>
